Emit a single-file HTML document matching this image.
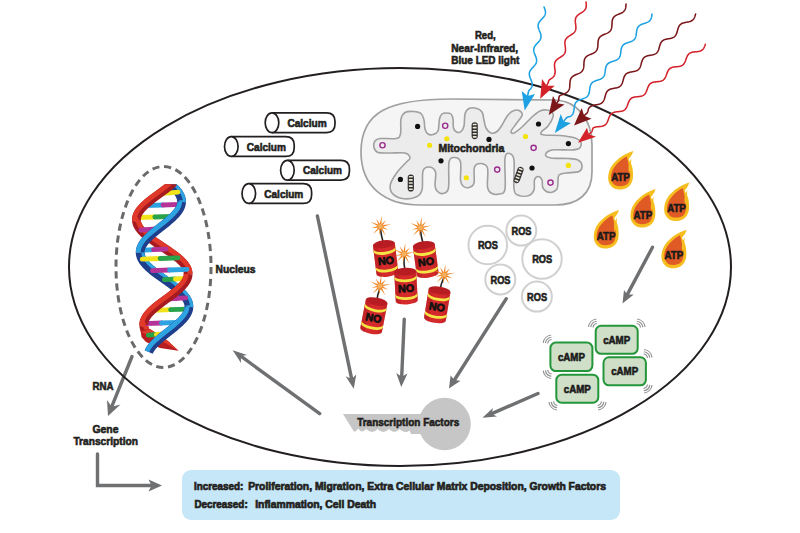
<!DOCTYPE html>
<html><head><meta charset="utf-8"><title>Photobiomodulation</title>
<style>html,body{margin:0;padding:0;background:#fff;width:800px;height:533px;overflow:hidden}svg{display:block}</style>
</head><body>
<svg width="800" height="533" viewBox="0 0 800 533">
<g font-family='"Liberation Sans", sans-serif'>
<rect width="800" height="533" fill="#ffffff"/>
<rect x="182" y="470" width="438" height="50" rx="9" fill="#c6e7f8"/>
<text x="194.0" y="489.9" font-size="10.8" font-weight="bold" text-anchor="start" fill="#231f20" stroke="#231f20" stroke-width="0.7" textLength="49.4" lengthAdjust="spacingAndGlyphs" >Increased:</text>
<text x="248.2" y="489.9" font-size="10.8" font-weight="bold" text-anchor="start" fill="#231f20" stroke="#231f20" stroke-width="0.7" textLength="357.8" lengthAdjust="spacingAndGlyphs" >Proliferation, Migration, Extra Cellular Matrix Deposition, Growth Factors</text>
<text x="194.4" y="507.9" font-size="10.8" font-weight="bold" text-anchor="start" fill="#231f20" stroke="#231f20" stroke-width="0.7" textLength="53.3" lengthAdjust="spacingAndGlyphs" >Decreased:</text>
<text x="255.2" y="507.9" font-size="10.8" font-weight="bold" text-anchor="start" fill="#231f20" stroke="#231f20" stroke-width="0.7" textLength="120.8" lengthAdjust="spacingAndGlyphs" >Inflammation, Cell Death</text>
<text x="485.3" y="38.6" font-size="10.6" font-weight="bold" text-anchor="middle" fill="#231f20" stroke="#231f20" stroke-width="0.6" textLength="20.8" lengthAdjust="spacingAndGlyphs" >Red,</text>
<text x="484.7" y="52.0" font-size="10.6" font-weight="bold" text-anchor="middle" fill="#231f20" stroke="#231f20" stroke-width="0.6" textLength="67.0" lengthAdjust="spacingAndGlyphs" >Near-Infrared,</text>
<text x="485.3" y="64.4" font-size="10.6" font-weight="bold" text-anchor="middle" fill="#231f20" stroke="#231f20" stroke-width="0.6" textLength="68.0" lengthAdjust="spacingAndGlyphs" >Blue LED light</text>
<path d="M361,152 C361,112 388,99 452,99 L555,100 C578,101 592,120 592,145 L592,172 C592,194 578,205 555,205 L420,205 C385,205 361,187 361,152 Z" fill="#f5f5f5" stroke="#a0a0a0" stroke-width="1.7"/>
<path d="M375,141 C376.0,139.5 376.5,138.9 380,138.5 C383.5,138.1 392.6,139.2 396,138.5 C399.4,137.8 399.7,137.2 400.5,134 C401.3,130.8 400.2,122.6 401,119 C401.8,115.4 402.8,113.8 405,112.5 C407.2,111.2 411.3,111.3 414,111.5 C416.7,111.7 419.3,112.1 421,113.5 C422.7,114.9 423.3,117.4 424,120 C424.7,122.6 424.3,126.7 425,129 C425.7,131.3 426.7,133.1 428,134 C429.3,134.9 431.3,135.0 433,134.5 C434.7,134.0 436.9,133.6 438,131 C439.1,128.4 438.8,121.8 439.5,119 C440.2,116.2 440.9,115.0 442,114 C443.1,113.0 444.5,113.0 446,113 C447.5,113.0 449.8,113.0 451,114 C452.2,115.0 452.6,116.7 453,119 C453.4,121.3 452.9,125.8 453.5,128 C454.1,130.2 455.2,131.4 456.5,132 C457.8,132.6 459.8,132.5 461,131.5 C462.2,130.5 463.3,128.9 464,126 C464.7,123.1 464.2,116.9 465,114 C465.8,111.1 467.0,109.4 469,108.5 C471.0,107.6 474.8,107.9 477,108.5 C479.2,109.1 480.8,110.1 482,112 C483.2,113.9 483.3,117.3 484,120 C484.7,122.7 484.8,125.8 486,128 C487.2,130.2 489.2,132.4 491,133 C492.8,133.6 495.2,132.8 497,131.5 C498.8,130.2 500.2,127.8 502,125 C503.8,122.2 506.0,117.4 508,115 C510.0,112.6 512.0,111.2 514,110.5 C516.0,109.8 518.7,110.2 520,111 C521.3,111.8 522.7,113.3 522,115.5 C521.3,117.7 517.8,121.3 516,124 C514.2,126.7 511.3,130.0 511,131.5 C510.7,133.0 512.2,133.8 514,133 C515.8,132.2 519.0,129.7 522,127 C525.0,124.3 529.0,119.7 532,117 C535.0,114.3 537.5,112.2 540,111 C542.5,109.8 545.0,109.8 547,110 C549.0,110.2 551.0,110.8 552,112 C553.0,113.2 553.7,114.7 553,117 C552.3,119.3 550.0,123.4 548,126 C546.0,128.6 541.7,131.0 541,132.5 C540.3,134.0 540.8,134.5 544,135 C547.2,135.5 554.8,135.0 560,135.5 C565.2,136.0 571.5,136.8 575,138 C578.5,139.2 580.3,140.8 581,142.5 C581.7,144.2 580.8,147.2 579,148.5 C577.2,149.8 574.5,149.8 570,150 C565.5,150.2 556.1,149.2 552,150 C547.9,150.8 545.7,153.2 545.5,154.5 C545.3,155.8 547.2,157.3 551,158 C554.8,158.7 563.5,158.2 568,158.5 C572.5,158.8 575.7,158.8 578,160 C580.3,161.2 581.8,163.6 582,165.5 C582.2,167.4 581.7,170.2 579,171.5 C576.3,172.8 569.3,172.4 566,173 C562.7,173.6 560.3,173.7 559,175 C557.7,176.3 558.3,178.7 558,181 C557.7,183.3 558.3,187.1 557,189 C555.7,190.9 552.3,192.7 550,192.5 C547.7,192.3 544.3,190.1 543,188 C541.7,185.9 542.8,181.9 542,180 C541.2,178.1 539.2,176.5 538,176.5 C536.8,176.5 535.2,177.8 534.5,180 C533.8,182.2 534.9,187.4 534,190 C533.1,192.6 531.5,194.6 529,195.5 C526.5,196.4 521.5,196.6 519,195.5 C516.5,194.4 514.8,194.9 514,189 C513.2,183.1 514.8,165.9 514,160 C513.2,154.1 511.0,153.8 509.5,153.5 C508.0,153.2 505.8,152.1 505,158 C504.2,163.9 506.0,183.0 505,189 C504.0,195.0 501.3,193.3 499,194 C496.7,194.7 492.9,194.2 491,193 C489.1,191.8 488.1,191.2 487.5,187 C486.9,182.8 488.6,171.9 487.5,168 C486.4,164.1 483.2,163.7 481,163.5 C478.8,163.3 475.7,163.8 474.5,167 C473.3,170.2 474.9,179.6 474,183 C473.1,186.4 470.8,187.0 469,187.5 C467.2,188.0 464.4,187.2 463,186 C461.6,184.8 460.9,184.0 460.5,180 C460.1,176.0 461.5,165.8 460.5,162 C459.5,158.2 456.4,157.5 454.5,157.5 C452.6,157.5 450.0,156.9 449,162 C448.0,167.1 449.5,182.8 448.5,188 C447.5,193.2 444.9,193.0 443,193.5 C441.1,194.0 438.3,192.4 437,191 C435.7,189.6 435.2,188.2 435,185 C434.8,181.8 436.4,175.0 435.5,172 C434.6,169.0 431.6,167.2 429.5,167 C427.4,166.8 424.2,167.2 423,171 C421.8,174.8 423.2,185.7 422,190 C420.8,194.3 419.3,195.6 416,197 C412.7,198.4 406.0,199.2 402,198.5 C398.0,197.8 393.9,195.4 392,193 C390.1,190.6 389.7,187.4 390.5,184 C391.3,180.6 394.4,176.1 397,172.5 C399.6,168.9 403.8,164.9 406,162.5 C408.2,160.1 410.2,159.6 410,158 C409.8,156.4 408.3,153.8 405,153 C401.7,152.2 394.5,153.1 390,153 C385.5,152.9 380.7,153.4 378,152.5 C375.3,151.6 374.5,149.4 374,147.5 C373.5,145.6 374.0,142.5 375,141 Z" fill="#ececec" stroke="#a0a0a0" stroke-width="1.6"/>
<circle cx="417.6" cy="126.4" r="2.6" fill="#111"/>
<circle cx="489" cy="139.4" r="2.6" fill="#111"/>
<circle cx="538.5" cy="124" r="2.6" fill="#111"/>
<circle cx="568.4" cy="143.6" r="2.6" fill="#111"/>
<circle cx="532" cy="168" r="2.6" fill="#111"/>
<circle cx="441" cy="160.8" r="2.6" fill="#111"/>
<circle cx="400.4" cy="179.4" r="2.6" fill="#111"/>
<circle cx="446.8" cy="138.75" r="2.6" fill="#f4e20c"/>
<circle cx="429.6" cy="145.25" r="2.6" fill="#f4e20c"/>
<circle cx="525.5" cy="136.5" r="2.6" fill="#f4e20c"/>
<circle cx="568.4" cy="165.4" r="2.6" fill="#f4e20c"/>
<circle cx="466.3" cy="177.75" r="2.6" fill="#f4e20c"/>
<circle cx="445.2" cy="125.75" r="2.6" fill="none" stroke="#9b2a8e" stroke-width="1.4"/>
<circle cx="382.5" cy="145.25" r="2.6" fill="none" stroke="#9b2a8e" stroke-width="1.4"/>
<circle cx="533.6" cy="147.85" r="2.6" fill="none" stroke="#9b2a8e" stroke-width="1.4"/>
<circle cx="497.2" cy="169.6" r="2.6" fill="none" stroke="#9b2a8e" stroke-width="1.4"/>
<circle cx="550.5" cy="182.6" r="2.6" fill="none" stroke="#9b2a8e" stroke-width="1.4"/>
<g transform="translate(474.7,130.7) rotate(0)">
<rect x="-3.1" y="-8.5" width="6.2" height="17" rx="3.1" fill="#2e2e2e"/>
<rect x="-2" y="-7.0" width="4" height="1.6" rx="0.6" fill="#ece6d4"/>
<rect x="-2" y="-3.9000000000000004" width="4" height="1.6" rx="0.6" fill="#ece6d4"/>
<rect x="-2" y="-0.8" width="4" height="1.6" rx="0.6" fill="#ece6d4"/>
<rect x="-2" y="2.3" width="4" height="1.6" rx="0.6" fill="#ece6d4"/>
<rect x="-2" y="5.4" width="4" height="1.6" rx="0.6" fill="#ece6d4"/>
</g>
<g transform="translate(410.8,183) rotate(0)">
<rect x="-3.1" y="-8.5" width="6.2" height="17" rx="3.1" fill="#2e2e2e"/>
<rect x="-2" y="-7.0" width="4" height="1.6" rx="0.6" fill="#ece6d4"/>
<rect x="-2" y="-3.9000000000000004" width="4" height="1.6" rx="0.6" fill="#ece6d4"/>
<rect x="-2" y="-0.8" width="4" height="1.6" rx="0.6" fill="#ece6d4"/>
<rect x="-2" y="2.3" width="4" height="1.6" rx="0.6" fill="#ece6d4"/>
<rect x="-2" y="5.4" width="4" height="1.6" rx="0.6" fill="#ece6d4"/>
</g>
<g transform="translate(518.6,174.9) rotate(20)">
<rect x="-3.1" y="-8.5" width="6.2" height="17" rx="3.1" fill="#2e2e2e"/>
<rect x="-2" y="-7.0" width="4" height="1.6" rx="0.6" fill="#ece6d4"/>
<rect x="-2" y="-3.9000000000000004" width="4" height="1.6" rx="0.6" fill="#ece6d4"/>
<rect x="-2" y="-0.8" width="4" height="1.6" rx="0.6" fill="#ece6d4"/>
<rect x="-2" y="2.3" width="4" height="1.6" rx="0.6" fill="#ece6d4"/>
<rect x="-2" y="5.4" width="4" height="1.6" rx="0.6" fill="#ece6d4"/>
</g>
<text x="438.4" y="151.7" font-size="10.8" font-weight="bold" text-anchor="start" fill="#231f20" stroke="#231f20" stroke-width="0.6" textLength="66.0" lengthAdjust="spacingAndGlyphs" >Mitochondria</text>
<path d="M272,112.8 L326.5,112.8 Q335,112.8 335,121.3 L335,124.1 Q335,132.6 326.5,132.6 L272,132.6" fill="#fff" stroke="#231f20" stroke-width="1.7"/>
<ellipse cx="272" cy="122.7" rx="6.8" ry="9.9" fill="#fff" stroke="#231f20" stroke-width="1.7"/>
<text x="287.4" y="126.8" font-size="10.8" font-weight="bold" text-anchor="start" fill="#231f20" stroke="#231f20" stroke-width="0.6" textLength="39.3" lengthAdjust="spacingAndGlyphs" >Calcium</text>
<path d="M231.3,136.6 L285.7,136.6 Q294.2,136.6 294.2,145.1 L294.2,147.9 Q294.2,156.4 285.7,156.4 L231.3,156.4" fill="#fff" stroke="#231f20" stroke-width="1.7"/>
<ellipse cx="231.3" cy="146.5" rx="6.8" ry="9.9" fill="#fff" stroke="#231f20" stroke-width="1.7"/>
<text x="246.8" y="150.8" font-size="10.8" font-weight="bold" text-anchor="start" fill="#231f20" stroke="#231f20" stroke-width="0.6" textLength="39.2" lengthAdjust="spacingAndGlyphs" >Calcium</text>
<path d="M287.4,160.29999999999998 L340.9,160.29999999999998 Q349.4,160.29999999999998 349.4,168.79999999999998 L349.4,171.6 Q349.4,180.1 340.9,180.1 L287.4,180.1" fill="#fff" stroke="#231f20" stroke-width="1.7"/>
<ellipse cx="287.4" cy="170.2" rx="6.8" ry="9.9" fill="#fff" stroke="#231f20" stroke-width="1.7"/>
<text x="303.0" y="174.3" font-size="10.8" font-weight="bold" text-anchor="start" fill="#231f20" stroke="#231f20" stroke-width="0.6" textLength="39.0" lengthAdjust="spacingAndGlyphs" >Calcium</text>
<path d="M248.8,183.6 L303.1,183.6 Q311.6,183.6 311.6,192.1 L311.6,194.9 Q311.6,203.4 303.1,203.4 L248.8,203.4" fill="#fff" stroke="#231f20" stroke-width="1.7"/>
<ellipse cx="248.8" cy="193.5" rx="6.8" ry="9.9" fill="#fff" stroke="#231f20" stroke-width="1.7"/>
<text x="264.3" y="197.9" font-size="10.8" font-weight="bold" text-anchor="start" fill="#231f20" stroke="#231f20" stroke-width="0.6" textLength="39.0" lengthAdjust="spacingAndGlyphs" >Calcium</text>
<ellipse cx="163.5" cy="267" rx="47.5" ry="100.5" fill="none" stroke="#6a6a6a" stroke-width="3" stroke-dasharray="7.2 4.8"/>
<text x="215.6" y="272.6" font-size="10.6" font-weight="bold" text-anchor="start" fill="#231f20" stroke="#231f20" stroke-width="0.6" textLength="40.0" lengthAdjust="spacingAndGlyphs" >Nucleus</text>
<defs><clipPath id="dnaclip"><rect x="100" y="184.3" width="120" height="180"/></clipPath></defs><g clip-path="url(#dnaclip)">
<polyline points="136.39,220.00 136.42,220.50 136.46,221.00 136.52,221.50 136.61,222.00 136.72,222.50 136.85,223.00 137.00,223.50 137.17,224.00 137.36,224.50 137.58,225.00 137.81,225.50 138.07,226.00 138.34,226.50 138.64,227.00 138.95,227.50 139.29,228.00 139.64,228.50 140.01,229.00 140.41,229.50 140.82,230.00 141.24,230.50 141.69,231.00 142.16,231.50 142.64,232.00 143.13,232.50 143.65,233.00 144.18,233.50 144.72,234.00 145.28,234.50 145.86,235.00 146.45,235.50 147.05,236.00 147.66,236.50 148.29,237.00 148.93,237.50 149.58,238.00 150.24,238.50 150.91,239.00 151.59,239.50 152.28,240.00 152.98,240.50 153.69,241.00 154.40,241.50 155.12,242.00 155.85,242.50 156.58,243.00 157.32,243.50 158.06,244.00 158.80,244.50 159.55,245.00 160.30,245.50 161.05,246.00 161.80,246.50 162.56,247.00 163.31,247.50 164.06,248.00 164.81,248.50 165.56,249.00 166.31,249.50 167.05,250.00 167.79,250.50 168.52,251.00 169.25,251.50 169.97,252.00 170.68,252.50 171.39,253.00 172.09,253.50 172.78,254.00 173.47,254.50 174.14,255.00 174.80,255.50 175.46,256.00 176.10,256.50 176.73,257.00 177.34,257.50 177.95,258.00 178.54,258.50 179.12,259.00 179.68,259.50 180.23,260.00 180.76,260.50 181.28,261.00 181.78,261.50 182.26,262.00 182.73,262.50 183.18,263.00 183.61,263.50 184.03,264.00 184.42,264.50 184.80,265.00 185.16,265.50 185.50,266.00 185.81,266.50 186.11,267.00 186.39,267.50 186.65,268.00 186.89,268.50 187.11,269.00 187.31,269.50 187.48,270.00 187.64,270.50 187.77,271.00 187.88,271.50 187.97,272.00 188.04,272.50 188.09,273.00 188.12,273.50 188.12,274.00" fill="none" stroke="#a51b1f" stroke-width="8.8" stroke-linejoin="round"/>
<polyline points="138.29,219.92 138.31,220.38 138.35,220.79 138.40,221.22 138.48,221.64 138.57,222.06 138.68,222.49 138.81,222.92 138.95,223.35 139.12,223.78 139.31,224.22 139.52,224.67 139.74,225.11 139.99,225.56 140.26,226.01 140.54,226.46 140.85,226.92 141.18,227.38 141.52,227.85 141.89,228.31 142.27,228.78 142.67,229.25 143.10,229.72 143.54,230.20 143.99,230.67 144.47,231.15 144.96,231.63 145.47,232.11 146.00,232.59 146.54,233.07 147.10,233.56 147.67,234.05 148.25,234.53 148.85,235.02 149.47,235.51 150.09,236.00 150.73,236.49 151.38,236.98 152.04,237.47 152.71,237.96 153.39,238.46 154.08,238.95 154.78,239.45 155.49,239.94 156.20,240.44 156.92,240.93 157.65,241.43 158.38,241.93 159.12,242.42 159.86,242.92 160.61,243.42 161.35,243.92 162.10,244.42 162.86,244.92 163.61,245.42 164.36,245.92 165.11,246.42 165.87,246.92 166.62,247.42 167.37,247.92 168.11,248.43 168.85,248.93 169.59,249.43 170.33,249.94 171.05,250.44 171.78,250.95 172.49,251.45 173.20,251.96 173.90,252.46 174.59,252.97 175.28,253.48 175.95,253.99 176.62,254.50 177.27,255.01 177.91,255.52 178.55,256.03 179.17,256.54 179.77,257.06 180.37,257.57 180.95,258.09 181.52,258.61 182.07,259.12 182.61,259.64 183.13,260.17 183.64,260.69 184.13,261.22 184.60,261.74 185.06,262.27 185.50,262.80 185.92,263.34 186.33,263.87 186.72,264.41 187.08,264.96 187.43,265.50 187.76,266.05 188.07,266.60 188.35,267.15 188.62,267.71 188.86,268.27 189.09,268.84 189.29,269.40 189.46,269.97 189.61,270.55 189.74,271.12 189.85,271.70 189.93,272.28 189.98,272.86 190.02,273.44 190.02,273.98" fill="none" stroke="#e0392a" stroke-width="4.8" stroke-linejoin="round"/>
<polyline points="143.74,325.00 143.77,325.50 143.81,326.00 143.87,326.50 143.96,327.00 144.07,327.50 144.20,328.00 144.35,328.50 144.52,329.00 144.71,329.50 144.93,330.00 145.16,330.50 145.42,331.00 145.69,331.50 145.99,332.00 146.30,332.50 146.64,333.00 146.99,333.50 147.36,334.00 147.76,334.50 148.17,335.00 148.59,335.50 149.04,336.00 149.51,336.50 149.99,337.00" fill="none" stroke="#a51b1f" stroke-width="8.8" stroke-linejoin="round"/>
<polyline points="145.64,324.92 145.66,325.38 145.70,325.79 145.75,326.22 145.83,326.64 145.92,327.06 146.03,327.49 146.16,327.92 146.30,328.35 146.47,328.78 146.66,329.22 146.87,329.67 147.09,330.11 147.34,330.56 147.61,331.01 147.89,331.46 148.20,331.92 148.53,332.38 148.87,332.85 149.24,333.31 149.62,333.78 150.02,334.25 150.45,334.72 150.89,335.20 151.36,335.68" fill="none" stroke="#e0392a" stroke-width="4.8" stroke-linejoin="round"/>
<polygon points="140.5,330 150,329 168,341 178.5,350.8 160,348 146,342 141.5,337" fill="#b71d21"/>
<polygon points="141,332 150,329 168,341 178.5,350.8 165,343" fill="#dd3a2a"/>
<polyline points="167.48,182.00 168.12,182.50 168.75,183.00 169.37,183.50 169.97,184.00 170.57,184.50 171.16,185.00 171.73,185.50 172.29,186.00 172.84,186.50 173.37,187.00 173.90,187.50 174.40,188.00 174.90,188.50 175.37,189.00 175.84,189.50 176.28,190.00 176.71,190.50 177.13,191.00 177.53,191.50 177.91,192.00 178.27,192.50 178.61,193.00 178.94,193.50 179.25,194.00 179.54,194.50 179.81,195.00 180.06,195.50 180.30,196.00 180.51,196.50 180.71,197.00 180.88,197.50 181.04,198.00 181.17,198.50 181.29,199.00 181.38,199.50 181.46,200.00 181.51,200.50 181.55,201.00 181.56,201.50 181.56,202.00" fill="none" stroke="#1f3f8c" stroke-width="8.8" stroke-linejoin="round"/>
<polyline points="169.15,179.88 169.79,180.38 170.44,180.89 171.07,181.41 171.70,181.92 172.31,182.44 172.92,182.96 173.51,183.47 174.10,183.99 174.67,184.52 175.23,185.04 175.78,185.56 176.31,186.09 176.83,186.62 177.34,187.15 177.83,187.68 178.31,188.22 178.78,188.76 179.22,189.30 179.66,189.84 180.07,190.39 180.47,190.94 180.85,191.49 181.22,192.05 181.57,192.61 181.89,193.18 182.20,193.75 182.49,194.32 182.76,194.90 183.01,195.48 183.24,196.06 183.44,196.65 183.63,197.25 183.79,197.84 183.93,198.44 184.04,199.05 184.13,199.65 184.20,200.26 184.24,200.87 184.26,201.47 178.86,201.97" fill="none" stroke="#2ea3e2" stroke-width="3.2" stroke-linejoin="round"/>
<polyline points="140.18,252.50 140.19,253.00 140.23,253.50 140.28,254.00 140.36,254.50 140.45,255.00 140.57,255.50 140.70,256.00 140.86,256.50 141.03,257.00 141.23,257.50 141.44,258.00 141.68,258.50 141.93,259.00 142.20,259.50 142.49,260.00 142.80,260.50 143.13,261.00 143.47,261.50 143.83,262.00 144.21,262.50 144.61,263.00 145.03,263.50 145.46,264.00 145.90,264.50 146.37,265.00 146.84,265.50 147.34,266.00 147.84,266.50 148.37,267.00 148.90,267.50 149.45,268.00 150.01,268.50 150.58,269.00 151.17,269.50 151.77,270.00 152.37,270.50 152.99,271.00 153.62,271.50 154.26,272.00 154.90,272.50 155.56,273.00 156.22,273.50 156.89,274.00 157.56,274.50 158.24,275.00 158.93,275.50 159.62,276.00 160.32,276.50 161.02,277.00 161.72,277.50 162.42,278.00 163.13,278.50 163.84,279.00 164.54,279.50 165.25,280.00 165.96,280.50 166.67,281.00 167.37,281.50 168.07,282.00 168.77,282.50 169.47,283.00 170.16,283.50 170.85,284.00 171.53,284.50 172.20,285.00 172.87,285.50 173.53,286.00 174.19,286.50 174.83,287.00 175.47,287.50 176.10,288.00 176.72,288.50 177.32,289.00 177.92,289.50 178.51,290.00 179.08,290.50 179.64,291.00 180.19,291.50 180.72,292.00 181.25,292.50 181.75,293.00 182.25,293.50 182.72,294.00 183.19,294.50 183.63,295.00 184.06,295.50 184.48,296.00 184.88,296.50 185.26,297.00 185.62,297.50 185.96,298.00 186.29,298.50 186.60,299.00 186.89,299.50 187.16,300.00 187.41,300.50 187.65,301.00 187.86,301.50 188.06,302.00 188.23,302.50 188.39,303.00 188.52,303.50 188.64,304.00 188.73,304.50 188.81,305.00 188.86,305.50 188.90,306.00 188.91,306.50 188.91,307.00" fill="none" stroke="#1f3f8c" stroke-width="8.8" stroke-linejoin="round"/>
<polyline points="142.88,252.42 142.89,252.87 142.92,253.26 142.96,253.65 143.02,254.05 143.10,254.44 143.19,254.84 143.30,255.25 143.42,255.65 143.57,256.06 143.73,256.48 143.91,256.90 144.10,257.32 144.32,257.75 144.55,258.18 144.81,258.61 145.08,259.05 145.37,259.49 145.68,259.94 146.00,260.39 146.35,260.84 146.71,261.30 147.09,261.76 147.49,262.22 147.90,262.68 148.33,263.15 148.78,263.62 149.25,264.09 149.73,264.56 150.22,265.04 150.73,265.52 151.26,265.99 151.80,266.47 152.35,266.96 152.91,267.44 153.49,267.92 154.08,268.41 154.68,268.89 155.30,269.38 155.92,269.87 156.55,270.36 157.19,270.85 157.84,271.34 158.50,271.83 159.17,272.33 159.84,272.82 160.52,273.31 161.20,273.81 161.89,274.31 162.59,274.80 163.28,275.30 163.98,275.80 164.69,276.30 165.39,276.79 166.10,277.29 166.81,277.79 167.52,278.30 168.23,278.80 168.94,279.30 169.64,279.80 170.35,280.31 171.05,280.81 171.75,281.31 172.44,281.82 173.13,282.33 173.81,282.83 174.49,283.34 175.17,283.85 175.83,284.36 176.49,284.87 177.14,285.38 177.79,285.89 178.42,286.41 179.05,286.92 179.66,287.44 180.27,287.96 180.86,288.47 181.45,288.99 182.02,289.52 182.58,290.04 183.13,290.56 183.66,291.09 184.18,291.62 184.69,292.15 185.18,292.68 185.66,293.22 186.13,293.76 186.57,294.30 187.01,294.84 187.42,295.39 187.82,295.94 188.20,296.49 188.57,297.05 188.92,297.61 189.24,298.18 189.55,298.75 189.84,299.32 190.11,299.90 190.36,300.48 190.59,301.06 190.79,301.65 190.98,302.25 191.14,302.84 191.28,303.44 191.39,304.05 191.48,304.65 191.55,305.26 191.59,305.87 191.61,306.47 186.21,306.97" fill="none" stroke="#2ea3e2" stroke-width="3.2" stroke-linejoin="round"/>
<line x1="161.1" y1="193.4" x2="169.6" y2="192.8" stroke="#f2e21a" stroke-width="4.8" stroke-linecap="round"/>
<line x1="169.6" y1="192.8" x2="178.0" y2="192.2" stroke="#f2e21a" stroke-width="4.8" stroke-linecap="round"/>
<line x1="145.5" y1="205.6" x2="163.0" y2="205.0" stroke="#2ea3e2" stroke-width="4.8" stroke-linecap="round"/>
<line x1="163.0" y1="205.0" x2="180.6" y2="204.4" stroke="#b43397" stroke-width="4.8" stroke-linecap="round"/>
<line x1="137.2" y1="217.6" x2="154.8" y2="217.0" stroke="#f2e21a" stroke-width="4.8" stroke-linecap="round"/>
<line x1="154.8" y1="217.0" x2="172.3" y2="216.4" stroke="#2aa44a" stroke-width="4.8" stroke-linecap="round"/>
<line x1="140.8" y1="230.0" x2="149.1" y2="229.4" stroke="#b43397" stroke-width="4.8" stroke-linecap="round"/>
<line x1="149.1" y1="229.4" x2="157.3" y2="228.8" stroke="#b43397" stroke-width="4.8" stroke-linecap="round"/>
<line x1="141.0" y1="250.3" x2="153.5" y2="249.7" stroke="#2ea3e2" stroke-width="4.8" stroke-linecap="round"/>
<line x1="153.5" y1="249.7" x2="166.1" y2="249.1" stroke="#b43397" stroke-width="4.8" stroke-linecap="round"/>
<line x1="142.2" y1="259.1" x2="160.1" y2="258.5" stroke="#f2e21a" stroke-width="4.8" stroke-linecap="round"/>
<line x1="160.1" y1="258.5" x2="178.0" y2="257.9" stroke="#2aa44a" stroke-width="4.8" stroke-linecap="round"/>
<line x1="152.3" y1="270.6" x2="169.6" y2="270.0" stroke="#b43397" stroke-width="4.8" stroke-linecap="round"/>
<line x1="169.6" y1="270.0" x2="187.0" y2="269.4" stroke="#2ea3e2" stroke-width="4.8" stroke-linecap="round"/>
<line x1="164.3" y1="279.6" x2="175.4" y2="279.0" stroke="#2aa44a" stroke-width="4.8" stroke-linecap="round"/>
<line x1="175.4" y1="279.0" x2="186.5" y2="278.4" stroke="#f2e21a" stroke-width="4.8" stroke-linecap="round"/>
<line x1="167.7" y1="299.0" x2="176.7" y2="298.4" stroke="#b43397" stroke-width="4.8" stroke-linecap="round"/>
<line x1="176.7" y1="298.4" x2="185.7" y2="297.8" stroke="#b43397" stroke-width="4.8" stroke-linecap="round"/>
<line x1="153.2" y1="310.3" x2="170.6" y2="309.7" stroke="#f2e21a" stroke-width="4.8" stroke-linecap="round"/>
<line x1="170.6" y1="309.7" x2="188.0" y2="309.1" stroke="#2aa44a" stroke-width="4.8" stroke-linecap="round"/>
<line x1="144.4" y1="323.6" x2="161.5" y2="323.0" stroke="#b43397" stroke-width="4.8" stroke-linecap="round"/>
<line x1="161.5" y1="323.0" x2="178.6" y2="322.4" stroke="#2ea3e2" stroke-width="4.8" stroke-linecap="round"/>
<line x1="148.3" y1="335.1" x2="156.4" y2="334.5" stroke="#2aa44a" stroke-width="4.8" stroke-linecap="round"/>
<line x1="156.4" y1="334.5" x2="164.5" y2="333.9" stroke="#f2e21a" stroke-width="4.8" stroke-linecap="round"/>
<polyline points="173.83,182.00 173.33,182.50 172.81,183.00 172.28,183.50 171.73,184.00 171.18,184.50 170.61,185.00 170.03,185.50 169.44,186.00 168.83,186.50 168.22,187.00 167.60,187.50 166.97,188.00 166.34,188.50 165.69,189.00 165.04,189.50 164.39,190.00 163.73,190.50 163.06,191.00 162.39,191.50 161.71,192.00 161.04,192.50 160.36,193.00 159.67,193.50 158.99,194.00 158.31,194.50 157.62,195.00 156.94,195.50 156.26,196.00 155.58,196.50 154.91,197.00 154.24,197.50 153.57,198.00 152.91,198.50 152.25,199.00 151.60,199.50 150.95,200.00 150.31,200.50 149.68,201.00 149.06,201.50 148.45,202.00 147.85,202.50 147.25,203.00 146.67,203.50 146.10,204.00 145.54,204.50 144.99,205.00 144.46,205.50 143.94,206.00 143.43,206.50 142.94,207.00 142.46,207.50 142.00,208.00 141.55,208.50 141.12,209.00 140.70,209.50 140.31,210.00 139.93,210.50 139.56,211.00 139.22,211.50 138.89,212.00 138.59,212.50 138.30,213.00 138.03,213.50 137.78,214.00 137.55,214.50 137.34,215.00 137.15,215.50 136.98,216.00 136.84,216.50 136.71,217.00 136.60,217.50 136.52,218.00 136.46,218.50 136.41,219.00 136.39,219.50 136.39,220.00" fill="none" stroke="#a51b1f" stroke-width="8.8" stroke-linejoin="round"/>
<polyline points="172.49,180.65 172.00,181.14 171.50,181.62 170.98,182.11 170.46,182.59 169.91,183.08 169.36,183.57 168.79,184.05 168.22,184.54 167.63,185.03 167.03,185.53 166.42,186.02 165.80,186.51 165.17,187.00 164.53,187.50 163.89,187.99 163.24,188.49 162.58,188.98 161.92,189.48 161.25,189.97 160.58,190.47 159.91,190.97 159.23,191.47 158.55,191.97 157.87,192.47 157.19,192.97 156.50,193.47 155.82,193.97 155.14,194.47 154.46,194.97 153.78,195.47 153.10,195.98 152.43,196.48 151.76,196.99 151.10,197.49 150.44,198.00 149.78,198.50 149.14,199.01 148.50,199.52 147.87,200.02 147.24,200.53 146.63,201.04 146.02,201.55 145.43,202.06 144.84,202.58 144.27,203.09 143.70,203.60 143.15,204.12 142.61,204.64 142.09,205.16 141.57,205.68 141.07,206.20 140.59,206.72 140.12,207.25 139.67,207.77 139.23,208.30 138.81,208.83 138.40,209.37 138.01,209.90 137.64,210.44 137.29,210.98 136.95,211.53 136.64,212.08 136.34,212.63 136.07,213.18 135.81,213.74 135.58,214.30 135.36,214.86 135.17,215.43 135.00,216.00 134.86,216.57 134.74,217.14 134.64,217.72 134.57,218.30 134.52,218.88 134.49,219.46 138.29,220.00" fill="none" stroke="#e0392a" stroke-width="4.8" stroke-linejoin="round"/>
<polyline points="188.12,274.00 188.10,274.50 188.07,275.00 188.01,275.50 187.93,276.00 187.83,276.50 187.70,277.00 187.56,277.50 187.39,278.00 187.21,278.50 187.00,279.00 186.78,279.50 186.53,280.00 186.27,280.50 185.99,281.00 185.68,281.50 185.36,282.00 185.02,282.50 184.66,283.00 184.28,283.50 183.89,284.00 183.48,284.50 183.05,285.00 182.61,285.50 182.15,286.00 181.67,286.50 181.18,287.00 180.68,287.50 180.16,288.00 179.63,288.50 179.08,289.00 178.53,289.50 177.96,290.00 177.38,290.50 176.79,291.00 176.18,291.50 175.57,292.00 174.95,292.50 174.32,293.00 173.69,293.50 173.04,294.00 172.39,294.50 171.74,295.00 171.08,295.50 170.41,296.00 169.74,296.50 169.06,297.00 168.39,297.50 167.71,298.00 167.02,298.50 166.34,299.00 165.66,299.50 164.97,300.00 164.29,300.50 163.61,301.00 162.93,301.50 162.26,302.00 161.59,302.50 160.92,303.00 160.26,303.50 159.60,304.00 158.95,304.50 158.30,305.00 157.66,305.50 157.03,306.00 156.41,306.50 155.80,307.00 155.20,307.50 154.60,308.00 154.02,308.50 153.45,309.00 152.89,309.50 152.34,310.00 151.81,310.50 151.29,311.00 150.78,311.50 150.29,312.00 149.81,312.50 149.35,313.00 148.90,313.50 148.47,314.00 148.05,314.50 147.66,315.00 147.28,315.50 146.91,316.00 146.57,316.50 146.24,317.00 145.94,317.50 145.65,318.00 145.38,318.50 145.13,319.00 144.90,319.50 144.69,320.00 144.50,320.50 144.33,321.00 144.19,321.50 144.06,322.00 143.95,322.50 143.87,323.00 143.81,323.50 143.76,324.00 143.74,324.50 143.74,325.00" fill="none" stroke="#a51b1f" stroke-width="8.8" stroke-linejoin="round"/>
<polyline points="186.22,273.94 186.21,274.40 186.18,274.82 186.13,275.24 186.06,275.66 185.97,276.08 185.87,276.51 185.74,276.94 185.60,277.37 185.44,277.81 185.26,278.25 185.06,278.69 184.84,279.14 184.60,279.59 184.35,280.04 184.07,280.49 183.78,280.95 183.46,281.41 183.13,281.87 182.78,282.34 182.41,282.81 182.02,283.28 181.62,283.75 181.20,284.23 180.76,284.70 180.31,285.18 179.84,285.66 179.35,286.14 178.85,286.62 178.33,287.11 177.81,287.59 177.26,288.08 176.71,288.57 176.14,289.05 175.57,289.54 174.98,290.03 174.38,290.53 173.77,291.02 173.15,291.51 172.52,292.00 171.88,292.50 171.24,292.99 170.59,293.49 169.93,293.98 169.27,294.48 168.60,294.97 167.93,295.47 167.26,295.97 166.58,296.47 165.90,296.97 165.22,297.47 164.54,297.97 163.85,298.47 163.17,298.97 162.49,299.47 161.81,299.97 161.13,300.47 160.45,300.98 159.78,301.48 159.11,301.99 158.45,302.49 157.79,303.00 157.13,303.50 156.49,304.01 155.85,304.52 155.22,305.02 154.59,305.53 153.98,306.04 153.37,306.55 152.78,307.06 152.19,307.58 151.62,308.09 151.05,308.60 150.50,309.12 149.96,309.64 149.44,310.16 148.92,310.68 148.42,311.20 147.94,311.72 147.47,312.25 147.02,312.77 146.58,313.30 146.16,313.83 145.75,314.37 145.36,314.90 144.99,315.44 144.64,315.98 144.30,316.53 143.99,317.08 143.69,317.63 143.42,318.18 143.16,318.74 142.93,319.30 142.71,319.86 142.52,320.43 142.35,321.00 142.21,321.57 142.09,322.14 141.99,322.72 141.92,323.30 141.87,323.88 141.84,324.46 145.64,325.00" fill="none" stroke="#e0392a" stroke-width="4.8" stroke-linejoin="round"/>
<polyline points="181.56,202.00 181.53,202.50 181.49,203.00 181.42,203.50 181.34,204.00 181.23,204.50 181.11,205.00 180.96,205.50 180.80,206.00 180.62,206.50 180.41,207.00 180.19,207.50 179.96,208.00 179.70,208.50 179.42,209.00 179.13,209.50 178.82,210.00 178.49,210.50 178.15,211.00 177.79,211.50 177.41,212.00 177.02,212.50 176.61,213.00 176.19,213.50 175.75,214.00 175.30,214.50 174.83,215.00 174.36,215.50 173.86,216.00 173.36,216.50 172.84,217.00 172.32,217.50 171.78,218.00 171.23,218.50 170.67,219.00 170.11,219.50 169.53,220.00 168.95,220.50 168.36,221.00 167.76,221.50 167.15,222.00 166.54,222.50 165.92,223.00 165.30,223.50 164.68,224.00 164.05,224.50 163.42,225.00 162.78,225.50 162.15,226.00 161.51,226.50 160.87,227.00 160.23,227.50 159.59,228.00 158.96,228.50 158.32,229.00 157.69,229.50 157.06,230.00 156.44,230.50 155.82,231.00 155.20,231.50 154.59,232.00 153.98,232.50 153.38,233.00 152.79,233.50 152.21,234.00 151.63,234.50 151.07,235.00 150.51,235.50 149.96,236.00 149.42,236.50 148.90,237.00 148.38,237.50 147.88,238.00 147.38,238.50 146.91,239.00 146.44,239.50 145.99,240.00 145.55,240.50 145.13,241.00 144.72,241.50 144.33,242.00 143.95,242.50 143.59,243.00 143.25,243.50 142.92,244.00 142.61,244.50 142.32,245.00 142.04,245.50 141.78,246.00 141.55,246.50 141.33,247.00 141.12,247.50 140.94,248.00 140.78,248.50 140.63,249.00 140.51,249.50 140.40,250.00 140.32,250.50 140.25,251.00 140.21,251.50 140.18,252.00 140.18,252.50" fill="none" stroke="#1f3f8c" stroke-width="8.8" stroke-linejoin="round"/>
<polyline points="179.66,201.90 179.64,202.37 179.60,202.79 179.54,203.22 179.47,203.65 179.38,204.07 179.27,204.51 179.15,204.94 179.00,205.38 178.84,205.82 178.66,206.26 178.47,206.71 178.25,207.16 178.02,207.61 177.77,208.06 177.50,208.52 177.22,208.98 176.92,209.44 176.60,209.91 176.26,210.37 175.91,210.84 175.54,211.31 175.15,211.79 174.75,212.26 174.33,212.74 173.90,213.22 173.45,213.70 172.99,214.18 172.52,214.66 172.03,215.14 171.53,215.63 171.02,216.12 170.49,216.60 169.96,217.09 169.41,217.58 168.86,218.07 168.29,218.56 167.72,219.05 167.13,219.55 166.54,220.04 165.95,220.53 165.34,221.03 164.73,221.52 164.11,222.02 163.49,222.51 162.87,223.01 162.24,223.51 161.61,224.01 160.97,224.51 160.34,225.00 159.70,225.50 159.06,226.00 158.42,226.51 157.78,227.01 157.15,227.51 156.51,228.01 155.88,228.51 155.25,229.02 154.62,229.52 154.00,230.03 153.38,230.53 152.77,231.04 152.16,231.55 151.56,232.05 150.97,232.56 150.38,233.07 149.80,233.58 149.23,234.09 148.67,234.60 148.12,235.12 147.58,235.63 147.05,236.14 146.53,236.66 146.02,237.18 145.52,237.70 145.04,238.22 144.57,238.74 144.11,239.26 143.67,239.79 143.24,240.31 142.82,240.84 142.42,241.37 142.04,241.91 141.67,242.44 141.32,242.98 140.98,243.52 140.66,244.06 140.36,244.61 140.08,245.16 139.82,245.71 139.57,246.26 139.35,246.82 139.15,247.38 138.96,247.94 138.80,248.51 138.66,249.07 138.54,249.65 138.44,250.22 138.37,250.79 138.31,251.37 138.28,251.94 138.28,252.48" fill="none" stroke="#2ea3e2" stroke-width="4.8" stroke-linejoin="round"/>
<polyline points="188.91,307.00 188.88,307.50 188.84,308.00 188.77,308.50 188.69,309.00 188.58,309.50 188.46,310.00 188.31,310.50 188.15,311.00 187.97,311.50 187.76,312.00 187.54,312.50 187.31,313.00 187.05,313.50 186.77,314.00 186.48,314.50 186.17,315.00 185.84,315.50 185.50,316.00 185.14,316.50 184.76,317.00 184.37,317.50 183.96,318.00 183.54,318.50 183.10,319.00 182.65,319.50 182.18,320.00 181.71,320.50 181.21,321.00 180.71,321.50 180.19,322.00 179.67,322.50 179.13,323.00 178.58,323.50 178.02,324.00 177.46,324.50 176.88,325.00 176.30,325.50 175.71,326.00 175.11,326.50 174.50,327.00 173.89,327.50 173.27,328.00 172.65,328.50 172.03,329.00 171.40,329.50 170.77,330.00 170.13,330.50 169.50,331.00 168.86,331.50 168.22,332.00 167.58,332.50 166.94,333.00 166.31,333.50 165.67,334.00 165.04,334.50 164.41,335.00 163.79,335.50 163.17,336.00 162.55,336.50 161.94,337.00 161.33,337.50 160.73,338.00 160.14,338.50 159.56,339.00 158.98,339.50 158.42,340.00 157.86,340.50 157.31,341.00 156.77,341.50 156.25,342.00 155.73,342.50 155.23,343.00 154.73,343.50 154.26,344.00 153.79,344.50 153.34,345.00 152.90,345.50 152.48,346.00 152.07,346.50 151.68,347.00 151.30,347.50 150.94,348.00 150.60,348.50 150.27,349.00 149.96,349.50 149.67,350.00 149.39,350.50 149.13,351.00 148.90,351.50 148.68,352.00" fill="none" stroke="#1f3f8c" stroke-width="8.8" stroke-linejoin="round"/>
<polyline points="187.01,306.90 186.99,307.37 186.95,307.79 186.89,308.22 186.82,308.65 186.73,309.07 186.62,309.51 186.50,309.94 186.35,310.38 186.19,310.82 186.01,311.26 185.82,311.71 185.60,312.16 185.37,312.61 185.12,313.06 184.85,313.52 184.57,313.98 184.27,314.44 183.95,314.91 183.61,315.37 183.26,315.84 182.89,316.31 182.50,316.79 182.10,317.26 181.68,317.74 181.25,318.22 180.80,318.70 180.34,319.18 179.87,319.66 179.38,320.14 178.88,320.63 178.37,321.12 177.84,321.60 177.31,322.09 176.76,322.58 176.21,323.07 175.64,323.56 175.07,324.05 174.48,324.55 173.89,325.04 173.30,325.53 172.69,326.03 172.08,326.52 171.46,327.02 170.84,327.51 170.22,328.01 169.59,328.51 168.96,329.01 168.32,329.51 167.69,330.00 167.05,330.50 166.41,331.00 165.77,331.51 165.13,332.01 164.50,332.51 163.86,333.01 163.23,333.51 162.60,334.02 161.97,334.52 161.35,335.03 160.73,335.53 160.12,336.04 159.51,336.55 158.91,337.05 158.32,337.56 157.73,338.07 157.15,338.58 156.58,339.09 156.02,339.60 155.47,340.12 154.93,340.63 154.40,341.14 153.88,341.66 153.37,342.18 152.87,342.70 152.39,343.22 151.92,343.74 151.46,344.26 151.02,344.79 150.59,345.31 150.17,345.84 149.77,346.37 149.39,346.91 149.02,347.44 148.67,347.98 148.33,348.52 148.01,349.06 147.71,349.61 147.43,350.16 147.17,350.71 146.94,351.23" fill="none" stroke="#2ea3e2" stroke-width="4.8" stroke-linejoin="round"/>
</g>
<path d="M383.81,244.62 Q381.11,236.01 380.40,228.40" stroke="#222" stroke-width="1.6" fill="none"/>
<g transform="translate(385.7,259) rotate(-7)">
<path d="M-11,-15 L-11,14 A11,3.8 0 0 0 11,14 L11,-15 Z" fill="#d42a2b"/>
<path d="M-11,-15 L-11,14 A11,3.8 0 0 0 -6,17.4 L-6,-11.6 Z" fill="#b51d23" opacity="0.55"/>
<path d="M11,-15 L11,14 A11,3.8 0 0 1 7,17.2 L7,-11.8 Z" fill="#b51d23" opacity="0.4"/>
<ellipse cx="0" cy="-15" rx="11" ry="3.8" fill="#b71c22"/>
<path d="M-11,-11 A11,3.8 0 0 0 11,-11 L11,-8.2 A11,3.8 0 0 1 -11,-8.2 Z" fill="#f4e545"/>
<path d="M-11,6.8 A11,3.8 0 0 0 11,6.8 L11,9.6 A11,3.8 0 0 1 -11,9.6 Z" fill="#f4e545"/>
<text x="0.0" y="5.4" font-size="10.6" font-weight="bold" text-anchor="middle" fill="#111" stroke="#111" stroke-width="0.7" textLength="16.0" lengthAdjust="spacingAndGlyphs" >NO</text>
</g>
<polygon points="381.72,215.48 381.54,223.95 386.39,219.95 382.76,225.09 391.19,224.28 383.08,226.72 388.38,230.10 382.38,228.24 385.75,236.01 380.92,229.05 379.35,235.14 379.26,228.85 372.92,234.46 378.04,227.71 371.77,228.10 377.72,226.08 370.42,221.77 378.42,224.56 376.12,218.71 379.88,223.75" fill="#ef8826"/>
<circle cx="380.4" cy="226.4" r="2.4" fill="#f5b060"/>
<path d="M423.72,245.64 Q421.06,237.17 420.40,229.70" stroke="#222" stroke-width="1.6" fill="none"/>
<g transform="translate(425.8,260) rotate(-7.7)">
<path d="M-11,-15 L-11,14 A11,3.8 0 0 0 11,14 L11,-15 Z" fill="#d42a2b"/>
<path d="M-11,-15 L-11,14 A11,3.8 0 0 0 -6,17.4 L-6,-11.6 Z" fill="#b51d23" opacity="0.55"/>
<path d="M11,-15 L11,14 A11,3.8 0 0 1 7,17.2 L7,-11.8 Z" fill="#b51d23" opacity="0.4"/>
<ellipse cx="0" cy="-15" rx="11" ry="3.8" fill="#b71c22"/>
<path d="M-11,-11 A11,3.8 0 0 0 11,-11 L11,-8.2 A11,3.8 0 0 1 -11,-8.2 Z" fill="#f4e545"/>
<path d="M-11,6.8 A11,3.8 0 0 0 11,6.8 L11,9.6 A11,3.8 0 0 1 -11,9.6 Z" fill="#f4e545"/>
<text x="0.0" y="5.4" font-size="10.6" font-weight="bold" text-anchor="middle" fill="#111" stroke="#111" stroke-width="0.7" textLength="16.0" lengthAdjust="spacingAndGlyphs" >NO</text>
</g>
<polygon points="421.72,216.78 421.54,225.25 426.39,221.25 422.76,226.39 431.19,225.58 423.08,228.02 428.38,231.40 422.38,229.54 425.75,237.31 420.92,230.35 419.35,236.44 419.26,230.15 412.92,235.76 418.04,229.01 411.77,229.40 417.72,227.38 410.42,223.07 418.42,225.86 416.12,220.01 419.88,225.05" fill="#ef8826"/>
<circle cx="420.4" cy="227.7" r="2.4" fill="#f5b060"/>
<path d="M405.19,272.12 Q403.59,263.56 404.00,256.00" stroke="#222" stroke-width="1.6" fill="none"/>
<g transform="translate(406,286.6) rotate(-3)">
<path d="M-11,-15 L-11,14 A11,3.8 0 0 0 11,14 L11,-15 Z" fill="#d42a2b"/>
<path d="M-11,-15 L-11,14 A11,3.8 0 0 0 -6,17.4 L-6,-11.6 Z" fill="#b51d23" opacity="0.55"/>
<path d="M11,-15 L11,14 A11,3.8 0 0 1 7,17.2 L7,-11.8 Z" fill="#b51d23" opacity="0.4"/>
<ellipse cx="0" cy="-15" rx="11" ry="3.8" fill="#b71c22"/>
<path d="M-11,-11 A11,3.8 0 0 0 11,-11 L11,-8.2 A11,3.8 0 0 1 -11,-8.2 Z" fill="#f4e545"/>
<path d="M-11,6.8 A11,3.8 0 0 0 11,6.8 L11,9.6 A11,3.8 0 0 1 -11,9.6 Z" fill="#f4e545"/>
<text x="0.0" y="5.4" font-size="10.6" font-weight="bold" text-anchor="middle" fill="#111" stroke="#111" stroke-width="0.7" textLength="16.0" lengthAdjust="spacingAndGlyphs" >NO</text>
</g>
<polygon points="405.32,243.08 405.14,251.55 409.99,247.55 406.36,252.69 414.79,251.88 406.68,254.32 411.98,257.70 405.98,255.84 409.35,263.61 404.52,256.65 402.95,262.74 402.86,256.45 396.52,262.06 401.64,255.31 395.37,255.70 401.32,253.68 394.02,249.37 402.02,252.16 399.72,246.31 403.48,251.35" fill="#ef8826"/>
<circle cx="404" cy="254" r="2.4" fill="#f5b060"/>
<path d="M376.76,301.98 Q377.38,294.49 380.00,288.00" stroke="#222" stroke-width="1.6" fill="none"/>
<g transform="translate(373.8,316.2) rotate(11)">
<path d="M-11,-15 L-11,14 A11,3.8 0 0 0 11,14 L11,-15 Z" fill="#d42a2b"/>
<path d="M-11,-15 L-11,14 A11,3.8 0 0 0 -6,17.4 L-6,-11.6 Z" fill="#b51d23" opacity="0.55"/>
<path d="M11,-15 L11,14 A11,3.8 0 0 1 7,17.2 L7,-11.8 Z" fill="#b51d23" opacity="0.4"/>
<ellipse cx="0" cy="-15" rx="11" ry="3.8" fill="#b71c22"/>
<path d="M-11,-11 A11,3.8 0 0 0 11,-11 L11,-8.2 A11,3.8 0 0 1 -11,-8.2 Z" fill="#f4e545"/>
<path d="M-11,6.8 A11,3.8 0 0 0 11,6.8 L11,9.6 A11,3.8 0 0 1 -11,9.6 Z" fill="#f4e545"/>
<text x="0.0" y="5.4" font-size="10.6" font-weight="bold" text-anchor="middle" fill="#111" stroke="#111" stroke-width="0.7" textLength="16.0" lengthAdjust="spacingAndGlyphs" >NO</text>
</g>
<polygon points="381.32,275.08 381.14,283.55 385.99,279.55 382.36,284.69 390.79,283.88 382.68,286.32 387.98,289.70 381.98,287.84 385.35,295.61 380.52,288.65 378.95,294.74 378.86,288.45 372.52,294.06 377.64,287.31 371.37,287.70 377.32,285.68 370.02,281.37 378.02,284.16 375.72,278.31 379.48,283.35" fill="#ef8826"/>
<circle cx="380" cy="286" r="2.4" fill="#f5b060"/>
<path d="M439.70,290.90 Q440.95,283.35 444.20,276.80" stroke="#222" stroke-width="1.6" fill="none"/>
<g transform="translate(437.2,305.2) rotate(9.3)">
<path d="M-11,-15 L-11,14 A11,3.8 0 0 0 11,14 L11,-15 Z" fill="#d42a2b"/>
<path d="M-11,-15 L-11,14 A11,3.8 0 0 0 -6,17.4 L-6,-11.6 Z" fill="#b51d23" opacity="0.55"/>
<path d="M11,-15 L11,14 A11,3.8 0 0 1 7,17.2 L7,-11.8 Z" fill="#b51d23" opacity="0.4"/>
<ellipse cx="0" cy="-15" rx="11" ry="3.8" fill="#b71c22"/>
<path d="M-11,-11 A11,3.8 0 0 0 11,-11 L11,-8.2 A11,3.8 0 0 1 -11,-8.2 Z" fill="#f4e545"/>
<path d="M-11,6.8 A11,3.8 0 0 0 11,6.8 L11,9.6 A11,3.8 0 0 1 -11,9.6 Z" fill="#f4e545"/>
<text x="0.0" y="5.4" font-size="10.6" font-weight="bold" text-anchor="middle" fill="#111" stroke="#111" stroke-width="0.7" textLength="16.0" lengthAdjust="spacingAndGlyphs" >NO</text>
</g>
<polygon points="445.52,263.88 445.34,272.35 450.19,268.35 446.56,273.49 454.99,272.68 446.88,275.12 452.18,278.50 446.18,276.64 449.55,284.41 444.72,277.45 443.15,283.54 443.06,277.25 436.72,282.86 441.84,276.11 435.57,276.50 441.52,274.48 434.22,270.17 442.22,272.96 439.92,267.11 443.68,272.15" fill="#ef8826"/>
<circle cx="444.2" cy="274.8" r="2.4" fill="#f5b060"/>
<circle cx="487.75" cy="245" r="19.3" fill="#fff" stroke="#d0d0d0" stroke-width="2"/>
<text x="487.9" y="249.1" font-size="10.5" font-weight="bold" text-anchor="middle" fill="#231f20" stroke="#231f20" stroke-width="0.6" textLength="20.0" lengthAdjust="spacingAndGlyphs" >ROS</text>
<circle cx="521.3" cy="230.6" r="15" fill="#fff" stroke="#d0d0d0" stroke-width="2"/>
<text x="521.5" y="234.7" font-size="10.5" font-weight="bold" text-anchor="middle" fill="#231f20" stroke="#231f20" stroke-width="0.6" textLength="20.0" lengthAdjust="spacingAndGlyphs" >ROS</text>
<circle cx="542" cy="259" r="19.7" fill="#fff" stroke="#d0d0d0" stroke-width="2"/>
<text x="542.2" y="263.1" font-size="10.5" font-weight="bold" text-anchor="middle" fill="#231f20" stroke="#231f20" stroke-width="0.6" textLength="20.0" lengthAdjust="spacingAndGlyphs" >ROS</text>
<circle cx="500.3" cy="279.4" r="15" fill="#fff" stroke="#d0d0d0" stroke-width="2"/>
<text x="500.5" y="283.5" font-size="10.5" font-weight="bold" text-anchor="middle" fill="#231f20" stroke="#231f20" stroke-width="0.6" textLength="20.0" lengthAdjust="spacingAndGlyphs" >ROS</text>
<circle cx="536.9" cy="296.6" r="15" fill="#fff" stroke="#d0d0d0" stroke-width="2"/>
<text x="537.1" y="300.7" font-size="10.5" font-weight="bold" text-anchor="middle" fill="#231f20" stroke="#231f20" stroke-width="0.6" textLength="20.0" lengthAdjust="spacingAndGlyphs" >ROS</text>
<g transform="translate(620.7,178)">
<path d="M12.6,-26.9 C5,-25 -4,-19 -9,-12 C-13,-6 -13.5,2 -11,6 C-8,11 -3,12 1,11.5 C7,11 12,6 12.3,-1 C12.5,-6 12,-11 10.5,-14 C9,-17 8,-18 8,-19 C10,-21 11.5,-23.5 12.6,-26.9 Z" fill="#f6bd1e"/>
<path d="M6,-21.5 C1,-19 -5,-14 -8,-8 C-11,-2 -10,4 -6,7 C-2,9 4,8.5 7,5.5 C10,2 10,-4 9,-8 C8,-12 7.5,-17 6,-21.5 Z" fill="#e05a26"/>
<path d="M8.6,-5 C7.2,-9 7.6,-14 10.6,-19.5 C10.2,-14 10.6,-9 8.6,-5 Z" fill="#f6bd1e"/>
</g>
<text x="620.5" y="180.7" font-size="10.4" font-weight="bold" text-anchor="middle" fill="#1a1a1a" stroke="#1a1a1a" stroke-width="0.6" textLength="18.6" lengthAdjust="spacingAndGlyphs" >ATP</text>
<g transform="translate(643,216)">
<path d="M12.6,-26.9 C5,-25 -4,-19 -9,-12 C-13,-6 -13.5,2 -11,6 C-8,11 -3,12 1,11.5 C7,11 12,6 12.3,-1 C12.5,-6 12,-11 10.5,-14 C9,-17 8,-18 8,-19 C10,-21 11.5,-23.5 12.6,-26.9 Z" fill="#f6bd1e"/>
<path d="M6,-21.5 C1,-19 -5,-14 -8,-8 C-11,-2 -10,4 -6,7 C-2,9 4,8.5 7,5.5 C10,2 10,-4 9,-8 C8,-12 7.5,-17 6,-21.5 Z" fill="#e05a26"/>
<path d="M8.6,-5 C7.2,-9 7.6,-14 10.6,-19.5 C10.2,-14 10.6,-9 8.6,-5 Z" fill="#f6bd1e"/>
</g>
<text x="642.8" y="218.7" font-size="10.4" font-weight="bold" text-anchor="middle" fill="#1a1a1a" stroke="#1a1a1a" stroke-width="0.6" textLength="18.6" lengthAdjust="spacingAndGlyphs" >ATP</text>
<g transform="translate(676.7,209.4)">
<path d="M12.6,-26.9 C5,-25 -4,-19 -9,-12 C-13,-6 -13.5,2 -11,6 C-8,11 -3,12 1,11.5 C7,11 12,6 12.3,-1 C12.5,-6 12,-11 10.5,-14 C9,-17 8,-18 8,-19 C10,-21 11.5,-23.5 12.6,-26.9 Z" fill="#f6bd1e"/>
<path d="M6,-21.5 C1,-19 -5,-14 -8,-8 C-11,-2 -10,4 -6,7 C-2,9 4,8.5 7,5.5 C10,2 10,-4 9,-8 C8,-12 7.5,-17 6,-21.5 Z" fill="#e05a26"/>
<path d="M8.6,-5 C7.2,-9 7.6,-14 10.6,-19.5 C10.2,-14 10.6,-9 8.6,-5 Z" fill="#f6bd1e"/>
</g>
<text x="676.5" y="212.1" font-size="10.4" font-weight="bold" text-anchor="middle" fill="#1a1a1a" stroke="#1a1a1a" stroke-width="0.6" textLength="18.6" lengthAdjust="spacingAndGlyphs" >ATP</text>
<g transform="translate(606.3,237)">
<path d="M12.6,-26.9 C5,-25 -4,-19 -9,-12 C-13,-6 -13.5,2 -11,6 C-8,11 -3,12 1,11.5 C7,11 12,6 12.3,-1 C12.5,-6 12,-11 10.5,-14 C9,-17 8,-18 8,-19 C10,-21 11.5,-23.5 12.6,-26.9 Z" fill="#f6bd1e"/>
<path d="M6,-21.5 C1,-19 -5,-14 -8,-8 C-11,-2 -10,4 -6,7 C-2,9 4,8.5 7,5.5 C10,2 10,-4 9,-8 C8,-12 7.5,-17 6,-21.5 Z" fill="#e05a26"/>
<path d="M8.6,-5 C7.2,-9 7.6,-14 10.6,-19.5 C10.2,-14 10.6,-9 8.6,-5 Z" fill="#f6bd1e"/>
</g>
<text x="606.1" y="239.7" font-size="10.4" font-weight="bold" text-anchor="middle" fill="#1a1a1a" stroke="#1a1a1a" stroke-width="0.6" textLength="18.6" lengthAdjust="spacingAndGlyphs" >ATP</text>
<g transform="translate(674,256.7)">
<path d="M12.6,-26.9 C5,-25 -4,-19 -9,-12 C-13,-6 -13.5,2 -11,6 C-8,11 -3,12 1,11.5 C7,11 12,6 12.3,-1 C12.5,-6 12,-11 10.5,-14 C9,-17 8,-18 8,-19 C10,-21 11.5,-23.5 12.6,-26.9 Z" fill="#f6bd1e"/>
<path d="M6,-21.5 C1,-19 -5,-14 -8,-8 C-11,-2 -10,4 -6,7 C-2,9 4,8.5 7,5.5 C10,2 10,-4 9,-8 C8,-12 7.5,-17 6,-21.5 Z" fill="#e05a26"/>
<path d="M8.6,-5 C7.2,-9 7.6,-14 10.6,-19.5 C10.2,-14 10.6,-9 8.6,-5 Z" fill="#f6bd1e"/>
</g>
<text x="673.8" y="259.4" font-size="10.4" font-weight="bold" text-anchor="middle" fill="#1a1a1a" stroke="#1a1a1a" stroke-width="0.6" textLength="18.6" lengthAdjust="spacingAndGlyphs" >ATP</text>
<rect x="550.4" y="342.6" width="42" height="28.5" rx="5.5" fill="#cfdfc8" stroke="#24963a" stroke-width="2"/>
<text x="571.4" y="360.7" font-size="10.5" font-weight="bold" text-anchor="middle" fill="#1a1a1a" stroke="#1a1a1a" stroke-width="0.6" textLength="27.0" lengthAdjust="spacingAndGlyphs" >cAMP</text>
<rect x="595.7" y="325.8" width="42" height="28" rx="5.5" fill="#cfdfc8" stroke="#24963a" stroke-width="2"/>
<text x="616.7" y="343.6" font-size="10.5" font-weight="bold" text-anchor="middle" fill="#1a1a1a" stroke="#1a1a1a" stroke-width="0.6" textLength="27.0" lengthAdjust="spacingAndGlyphs" >cAMP</text>
<rect x="603.5" y="357.3" width="42.4" height="28" rx="5.5" fill="#cfdfc8" stroke="#24963a" stroke-width="2"/>
<text x="624.7" y="375.1" font-size="10.5" font-weight="bold" text-anchor="middle" fill="#1a1a1a" stroke="#1a1a1a" stroke-width="0.6" textLength="27.0" lengthAdjust="spacingAndGlyphs" >cAMP</text>
<rect x="556.3" y="374.7" width="42" height="28" rx="5.5" fill="#cfdfc8" stroke="#24963a" stroke-width="2"/>
<text x="577.3" y="392.5" font-size="10.5" font-weight="bold" text-anchor="middle" fill="#1a1a1a" stroke="#1a1a1a" stroke-width="0.6" textLength="27.0" lengthAdjust="spacingAndGlyphs" >cAMP</text>
<path d="M547.73,343.45 A4.5,4.5 0 0 1 551.65,339.53" fill="none" stroke="#8f8f8f" stroke-width="1.15"/>
<path d="M545.45,343.17 A6.8,6.8 0 0 1 551.37,337.25" fill="none" stroke="#8f8f8f" stroke-width="1.15"/>
<path d="M543.17,342.89 A9.1,9.1 0 0 1 551.09,334.97" fill="none" stroke="#8f8f8f" stroke-width="1.15"/>
<path d="M551.65,373.97 A4.5,4.5 0 0 1 547.73,370.05" fill="none" stroke="#8f8f8f" stroke-width="1.15"/>
<path d="M551.37,376.25 A6.8,6.8 0 0 1 545.45,370.33" fill="none" stroke="#8f8f8f" stroke-width="1.15"/>
<path d="M551.09,378.53 A9.1,9.1 0 0 1 543.17,370.61" fill="none" stroke="#8f8f8f" stroke-width="1.15"/>
<path d="M593.03,327.45 A4.5,4.5 0 0 1 596.95,323.53" fill="none" stroke="#8f8f8f" stroke-width="1.15"/>
<path d="M590.75,327.17 A6.8,6.8 0 0 1 596.67,321.25" fill="none" stroke="#8f8f8f" stroke-width="1.15"/>
<path d="M588.47,326.89 A9.1,9.1 0 0 1 596.39,318.97" fill="none" stroke="#8f8f8f" stroke-width="1.15"/>
<path d="M636.55,323.53 A4.5,4.5 0 0 1 640.47,327.45" fill="none" stroke="#8f8f8f" stroke-width="1.15"/>
<path d="M636.83,321.25 A6.8,6.8 0 0 1 642.75,327.17" fill="none" stroke="#8f8f8f" stroke-width="1.15"/>
<path d="M637.11,318.97 A9.1,9.1 0 0 1 645.03,326.89" fill="none" stroke="#8f8f8f" stroke-width="1.15"/>
<path d="M643.55,354.03 A4.5,4.5 0 0 1 647.47,357.95" fill="none" stroke="#8f8f8f" stroke-width="1.15"/>
<path d="M643.83,351.75 A6.8,6.8 0 0 1 649.75,357.67" fill="none" stroke="#8f8f8f" stroke-width="1.15"/>
<path d="M644.11,349.47 A9.1,9.1 0 0 1 652.03,357.39" fill="none" stroke="#8f8f8f" stroke-width="1.15"/>
<path d="M647.47,384.55 A4.5,4.5 0 0 1 643.55,388.47" fill="none" stroke="#8f8f8f" stroke-width="1.15"/>
<path d="M649.75,384.83 A6.8,6.8 0 0 1 643.83,390.75" fill="none" stroke="#8f8f8f" stroke-width="1.15"/>
<path d="M652.03,385.11 A9.1,9.1 0 0 1 644.11,393.03" fill="none" stroke="#8f8f8f" stroke-width="1.15"/>
<path d="M557.45,405.47 A4.5,4.5 0 0 1 553.53,401.55" fill="none" stroke="#8f8f8f" stroke-width="1.15"/>
<path d="M557.17,407.75 A6.8,6.8 0 0 1 551.25,401.83" fill="none" stroke="#8f8f8f" stroke-width="1.15"/>
<path d="M556.89,410.03 A9.1,9.1 0 0 1 548.97,402.11" fill="none" stroke="#8f8f8f" stroke-width="1.15"/>
<path d="M601.47,401.55 A4.5,4.5 0 0 1 597.55,405.47" fill="none" stroke="#8f8f8f" stroke-width="1.15"/>
<path d="M603.75,401.83 A6.8,6.8 0 0 1 597.83,407.75" fill="none" stroke="#8f8f8f" stroke-width="1.15"/>
<path d="M606.03,402.11 A9.1,9.1 0 0 1 598.11,410.03" fill="none" stroke="#8f8f8f" stroke-width="1.15"/>
<g fill="#c6c6c6">
<circle cx="444.6" cy="424" r="26.2"/>
<path d="M343,414 L430,414 L430,434 L411,434 L409.5,430.5 Q405,434.5 399.5,429 Q394.5,435 389,429 Q383.5,435 377.5,429 Q372.5,435 366,429 Q362,434 358,428.5 Q356.5,431.5 354,431.8 Z"/>
</g>
<text x="357.2" y="425.9" font-size="10.8" font-weight="bold" text-anchor="start" fill="#231f20" stroke="#231f20" stroke-width="0.6" textLength="102.0" lengthAdjust="spacingAndGlyphs" >Transcription Factors</text>
<line x1="317.40" y1="216.00" x2="352.02" y2="380.53" stroke="#6f7072" stroke-width="3.4" stroke-linecap="round"/>
<polygon points="353.75,388.75 345.60,376.25 351.67,378.89 356.25,374.40" fill="#6f7072"/>
<line x1="404.25" y1="319.25" x2="401.62" y2="378.51" stroke="#6f7072" stroke-width="3.4" stroke-linecap="round"/>
<polygon points="401.25,386.90 396.25,373.10 401.70,376.83 407.50,373.50" fill="#6f7072"/>
<line x1="506.30" y1="298.70" x2="453.51" y2="381.52" stroke="#6f7072" stroke-width="3.4" stroke-linecap="round"/>
<polygon points="449.00,388.60 450.60,375.60 454.42,380.10 460.50,380.70" fill="#6f7072"/>
<line x1="652.50" y1="247.25" x2="626.45" y2="296.09" stroke="#6f7072" stroke-width="3.4" stroke-linecap="round"/>
<polygon points="622.50,303.50 624.00,290.00 627.24,294.61 633.75,294.50" fill="#6f7072"/>
<line x1="538.00" y1="393.50" x2="490.10" y2="414.35" stroke="#6f7072" stroke-width="3.4" stroke-linecap="round"/>
<polygon points="482.40,417.70 493.00,408.00 491.64,413.68 497.00,416.60" fill="#6f7072"/>
<line x1="319.70" y1="413.60" x2="239.49" y2="355.24" stroke="#6f7072" stroke-width="3.4" stroke-linecap="round"/>
<polygon points="232.70,350.30 241.00,363.00 240.85,356.23 247.00,355.00" fill="#6f7072"/>
<line x1="132.00" y1="356.50" x2="111.14" y2="408.21" stroke="#6f7072" stroke-width="3.4" stroke-linecap="round"/>
<polygon points="108.00,416.00 107.00,400.00 111.77,406.65 120.50,404.50" fill="#6f7072"/>
<path d="M97.5,454 L97.5,485.5 L152,485.5" fill="none" stroke="#6f7072" stroke-width="3.4" stroke-linecap="round"/>
<polygon points="162,485.5 148.5,479.5 151.5,485.5 148.5,491.5" fill="#6f7072"/>
<text x="92.4" y="389.5" font-size="10.6" font-weight="bold" text-anchor="start" fill="#231f20" stroke="#231f20" stroke-width="0.6" textLength="21.0" lengthAdjust="spacingAndGlyphs" >RNA</text>
<text x="105.5" y="433.1" font-size="10.6" font-weight="bold" text-anchor="middle" fill="#231f20" stroke="#231f20" stroke-width="0.6" textLength="26.0" lengthAdjust="spacingAndGlyphs" >Gene</text>
<text x="105.7" y="445.4" font-size="10.6" font-weight="bold" text-anchor="middle" fill="#231f20" stroke="#231f20" stroke-width="0.6" textLength="64.5" lengthAdjust="spacingAndGlyphs" >Transcription</text>
<ellipse cx="400" cy="267" rx="331" ry="199" fill="none" stroke="#231f20" stroke-width="2"/>
<polyline points="544.00,7.00 544.23,7.56 544.45,8.11 544.66,8.66 544.85,9.21 545.03,9.76 545.18,10.30 545.30,10.83 545.39,11.36 545.44,11.89 545.46,12.40 545.43,12.91 545.37,13.42 545.26,13.91 545.11,14.40 544.93,14.88 544.70,15.35 544.44,15.81 544.14,16.27 543.82,16.73 543.46,17.18 543.09,17.62 542.70,18.06 542.30,18.51 541.89,18.94 541.48,19.38 541.08,19.82 540.68,20.26 540.30,20.71 539.94,21.16 539.60,21.61 539.29,22.06 539.01,22.53 538.77,23.00 538.56,23.47 538.39,23.96 538.27,24.45 538.18,24.94 538.14,25.45 538.13,25.96 538.17,26.48 538.24,27.01 538.35,27.54 538.48,28.08 538.65,28.63 538.83,29.17 539.04,29.72 539.25,30.28 539.48,30.83 539.71,31.39 539.93,31.94 540.15,32.50 540.35,33.05 540.54,33.59 540.70,34.14 540.83,34.68 540.94,35.21 541.01,35.74 541.04,36.26 541.04,36.77 540.99,37.27 540.91,37.77 540.78,38.26 540.61,38.75 540.40,39.22 540.16,39.69 539.88,40.15 539.56,40.61 539.23,41.06 538.86,41.51 538.48,41.95 538.08,42.39 537.68,42.83 537.27,43.27 536.86,43.71 536.46,44.15 536.07,44.59 535.70,45.04 535.35,45.49 535.02,45.94 534.73,46.40 534.47,46.87 534.24,47.34 534.06,47.82 533.91,48.31 533.81,48.80 533.74,49.30 533.72,49.81 533.74,50.33 533.79,50.85 533.88,51.39 534.00,51.92 534.15,52.46 534.33,53.01 534.53,53.56 534.74,54.11 534.96,54.66 535.19,55.22 535.41,55.78 535.63,56.33 535.84,56.88 536.04,57.43 536.21,57.98 536.36,58.52 536.48,59.05 536.57,59.58 536.62,60.11 536.63,60.62 536.61,61.13 536.54,61.63 536.43,62.13 536.28,62.61 536.09,63.09 535.87,63.56 535.60,64.03 535.31,64.49 534.98,64.94 534.63,65.39 534.26,65.84 533.86,66.28 533.46,66.72 533.06,67.16 532.65,67.60 532.24,68.04 531.85,68.48 531.46,68.92 531.10,69.37 530.77,69.82 530.46,70.28 530.18,70.74 529.94,71.21 529.73,71.69 529.57,72.17 529.44,72.66 529.36,73.16 529.32,73.67 529.31,74.18 529.35,74.70 529.42,75.23 529.53,75.76 529.67,76.30 529.83,76.85 530.02,77.39 530.22,77.94 530.44,78.50 530.67,79.05 530.89,79.61 531.12,80.16 531.33,80.72 531.54,81.27 531.72,81.81 531.88,82.36 532.02,82.90 532.12,83.43 532.19,83.96 532.22,84.47 532.21,84.99 532.17,85.49 532.08,85.99 531.95,86.48 531.78,86.96 531.57,87.44 531.32,87.91 531.04,88.37 530.73,88.83 530.23,89.25 529.75,89.67 529.33,90.11 528.98,90.56 528.71,91.02 528.51,91.50 528.39,91.99 528.35,92.50 527.25,97.90" fill="none" stroke="#1da1e2" stroke-width="1.55" stroke-linecap="round" stroke-linejoin="round"/>
<polygon points="524.70,110.50 521.70,91.00 527.62,96.10 535.00,94.00" fill="#1da1e2"/>
<polyline points="586.00,2.00 586.08,2.59 586.15,3.18 586.21,3.77 586.26,4.35 586.29,4.92 586.30,5.48 586.28,6.03 586.23,6.56 586.15,7.08 586.04,7.59 585.89,8.07 585.70,8.54 585.47,8.99 585.20,9.42 584.90,9.84 584.57,10.24 584.20,10.62 583.80,10.99 583.37,11.35 582.92,11.69 582.44,12.03 581.96,12.35 581.46,12.68 580.95,13.00 580.45,13.32 579.94,13.64 579.45,13.96 578.97,14.29 578.50,14.63 578.06,14.98 577.64,15.34 577.25,15.72 576.90,16.11 576.58,16.51 576.29,16.94 576.04,17.38 575.83,17.83 575.65,18.31 575.52,18.80 575.41,19.31 575.35,19.84 575.31,20.38 575.30,20.93 575.32,21.49 575.36,22.07 575.41,22.65 575.48,23.24 575.56,23.83 575.64,24.43 575.71,25.02 575.78,25.61 575.84,26.19 575.88,26.77 575.90,27.34 575.90,27.89 575.87,28.43 575.81,28.96 575.72,29.47 575.59,29.97 575.42,30.45 575.21,30.91 574.97,31.35 574.69,31.78 574.38,32.19 574.02,32.58 573.64,32.96 573.23,33.32 572.79,33.67 572.33,34.01 571.85,34.34 571.36,34.67 570.86,34.99 570.35,35.31 569.85,35.63 569.35,35.95 568.86,36.28 568.38,36.62 567.93,36.96 567.49,37.31 567.09,37.68 566.71,38.06 566.37,38.46 566.06,38.87 565.79,39.30 565.55,39.74 565.36,40.21 565.20,40.69 565.07,41.19 564.99,41.71 564.93,42.24 564.91,42.78 564.91,43.34 564.94,43.91 564.98,44.49 565.05,45.07 565.12,45.66 565.19,46.26 565.27,46.85 565.35,47.44 565.41,48.03 565.46,48.61 565.50,49.18 565.51,49.75 565.50,50.30 565.46,50.83 565.38,51.36 565.27,51.86 565.13,52.35 564.94,52.82 564.72,53.28 564.47,53.71 564.17,54.13 563.84,54.53 563.48,54.92 563.08,55.29 562.66,55.65 562.21,56.00 561.74,56.33 561.26,56.66 560.76,56.99 560.26,57.31 559.75,57.63 559.25,57.95 558.75,58.27 558.27,58.60 557.80,58.94 557.35,59.29 556.93,59.65 556.54,60.02 556.17,60.40 555.84,60.81 555.55,61.23 555.29,61.66 555.07,62.12 554.89,62.59 554.75,63.08 554.64,63.58 554.57,64.11 554.52,64.64 554.51,65.19 554.52,65.76 554.56,66.33 554.61,66.91 554.68,67.50 554.75,68.09 554.83,68.68 554.91,69.28 554.98,69.87 555.04,70.45 555.09,71.03 555.11,71.60 555.11,72.16 555.09,72.70 555.03,73.23 554.95,73.75 554.82,74.25 554.66,74.73 554.46,75.19 554.23,75.64 553.96,76.07 553.65,76.48 553.30,76.88 552.93,77.26 552.52,77.62 552.09,77.98 551.63,78.32 551.15,78.65 550.66,78.98 550.13,79.28 549.65,79.62 549.25,79.99 548.93,80.39 548.68,80.83 548.50,81.31 548.39,81.81 548.35,82.35 545.90,87.28" fill="none" stroke="#d3222a" stroke-width="1.55" stroke-linecap="round" stroke-linejoin="round"/>
<polygon points="540.20,98.80 542.00,79.00 546.72,85.64 554.70,85.70" fill="#d3222a"/>
<polyline points="626.00,4.00 625.98,4.60 625.95,5.19 625.91,5.77 625.86,6.35 625.79,6.92 625.71,7.47 625.59,8.00 625.46,8.52 625.29,9.01 625.09,9.49 624.86,9.94 624.60,10.37 624.30,10.77 623.97,11.15 623.61,11.51 623.21,11.85 622.79,12.16 622.33,12.46 621.85,12.73 621.35,13.00 620.84,13.25 620.30,13.49 619.76,13.72 619.21,13.95 618.66,14.18 618.11,14.40 617.57,14.64 617.04,14.88 616.52,15.13 616.03,15.40 615.55,15.68 615.11,15.98 614.69,16.29 614.29,16.63 613.94,17.00 613.61,17.38 613.32,17.79 613.06,18.22 612.84,18.68 612.65,19.15 612.48,19.65 612.35,20.17 612.25,20.71 612.16,21.27 612.10,21.83 612.05,22.41 612.02,23.00 611.99,23.59 611.96,24.19 611.94,24.78 611.91,25.37 611.87,25.96 611.82,26.53 611.75,27.10 611.66,27.64 611.54,28.18 611.40,28.69 611.23,29.18 611.02,29.65 610.79,30.10 610.52,30.52 610.22,30.92 609.88,31.30 609.51,31.65 609.11,31.99 608.68,32.30 608.22,32.59 607.74,32.86 607.23,33.12 606.71,33.37 606.18,33.61 605.63,33.84 605.08,34.07 604.53,34.30 603.99,34.53 603.45,34.76 602.92,35.01 602.40,35.26 601.91,35.53 601.44,35.81 601.00,36.11 600.58,36.44 600.20,36.78 599.85,37.14 599.53,37.53 599.24,37.95 598.99,38.38 598.77,38.84 598.58,39.32 598.43,39.83 598.30,40.35 598.20,40.89 598.12,41.45 598.06,42.02 598.01,42.60 597.98,43.18 597.95,43.78 597.93,44.37 597.90,44.97 597.87,45.56 597.83,46.14 597.77,46.72 597.70,47.28 597.61,47.82 597.49,48.35 597.34,48.86 597.16,49.35 596.95,49.81 596.71,50.26 596.44,50.68 596.13,51.07 595.78,51.45 595.41,51.80 595.00,52.12 594.57,52.43 594.10,52.72 593.62,52.99 593.11,53.25 592.59,53.50 592.05,53.74 591.51,53.97 590.96,54.19 590.40,54.42 589.86,54.65 589.32,54.89 588.79,55.13 588.29,55.39 587.80,55.66 587.33,55.95 586.89,56.25 586.48,56.58 586.10,56.92 585.75,57.29 585.44,57.69 585.16,58.10 584.92,58.54 584.70,59.01 584.52,59.49 584.37,60.00 584.25,60.53 584.15,61.07 584.07,61.63 584.02,62.20 583.97,62.78 583.94,63.37 583.91,63.97 583.89,64.56 583.86,65.15 583.83,65.74 583.79,66.33 583.73,66.90 583.65,67.46 583.55,68.00 583.43,68.52 583.28,69.03 583.09,69.51 582.88,69.98 582.63,70.42 582.35,70.83 582.04,71.22 581.69,71.59 581.31,71.94 580.90,72.26 580.46,72.57 579.99,72.85 579.50,73.12 578.99,73.38 578.46,73.62 577.92,73.86 577.38,74.09 576.83,74.32 576.28,74.54 575.73,74.78 575.20,75.01 574.67,75.26 574.17,75.52 573.68,75.79 573.22,76.08 572.79,76.39 572.38,76.72 572.01,77.07 571.67,77.44 571.36,77.84 571.08,78.26 570.84,78.71 570.64,79.17 570.46,79.66 570.32,80.17 570.20,80.70 570.10,81.25 570.03,81.81 569.98,82.38 569.93,82.97 569.90,83.56 569.88,84.15 569.85,84.75 569.83,85.34 569.79,85.93 569.75,86.51 569.69,87.08 569.61,87.63 569.50,88.17 569.37,88.70 569.22,89.20 569.03,89.68 568.81,90.14 568.55,90.57 568.27,90.98 567.95,91.37 567.59,91.74 567.21,92.08 566.79,92.40 566.34,92.70 565.87,92.98 565.38,93.25 564.87,93.51 564.34,93.75 563.80,93.98 563.25,94.21 562.70,94.44 562.15,94.67 561.61,94.90 561.07,95.14 560.55,95.39 560.05,95.65 559.57,95.92 559.31,96.36 559.12,96.84 558.99,97.36 558.90,97.91 558.85,98.48 558.81,99.07 558.78,99.66 558.75,100.25 555.75,104.67" fill="none" stroke="#7b1619" stroke-width="1.55" stroke-linecap="round" stroke-linejoin="round"/>
<polygon points="548.75,115.00 553.00,96.00 556.75,103.20 564.50,104.50" fill="#7b1619"/>
<polyline points="652.00,14.00 651.93,14.59 651.85,15.18 651.77,15.76 651.67,16.33 651.56,16.89 651.43,17.43 651.28,17.95 651.10,18.46 650.90,18.94 650.66,19.40 650.40,19.83 650.10,20.23 649.77,20.61 649.41,20.97 649.02,21.29 648.60,21.60 648.15,21.88 647.68,22.14 647.18,22.38 646.66,22.60 646.13,22.81 645.58,23.00 645.02,23.19 644.45,23.38 643.89,23.56 643.32,23.74 642.76,23.93 642.22,24.13 641.68,24.34 641.17,24.57 640.67,24.81 640.20,25.07 639.75,25.35 639.34,25.66 638.95,25.99 638.60,26.35 638.27,26.73 637.98,27.14 637.72,27.58 637.49,28.04 637.29,28.52 637.12,29.03 636.97,29.56 636.84,30.10 636.73,30.66 636.64,31.23 636.56,31.82 636.48,32.40 636.41,32.99 636.34,33.59 636.26,34.17 636.18,34.75 636.08,35.32 635.97,35.88 635.83,36.42 635.68,36.94 635.49,37.44 635.29,37.92 635.05,38.37 634.78,38.80 634.48,39.20 634.14,39.57 633.78,39.92 633.39,40.25 632.96,40.55 632.51,40.83 632.03,41.08 631.53,41.32 631.01,41.54 630.47,41.74 629.92,41.94 629.36,42.13 628.79,42.31 628.22,42.49 627.66,42.68 627.10,42.87 626.56,43.07 626.03,43.28 625.51,43.51 625.02,43.75 624.55,44.02 624.11,44.31 623.70,44.62 623.32,44.95 622.97,45.31 622.65,45.70 622.36,46.11 622.11,46.55 621.88,47.02 621.69,47.50 621.52,48.01 621.37,48.54 621.24,49.09 621.14,49.65 621.05,50.23 620.97,50.81 620.89,51.40 620.82,51.99 620.75,52.58 620.67,53.17 620.58,53.74 620.48,54.31 620.37,54.86 620.23,55.40 620.07,55.92 619.89,56.42 619.67,56.89 619.43,57.34 619.16,57.77 618.85,58.16 618.51,58.54 618.15,58.88 617.75,59.20 617.32,59.50 616.86,59.77 616.38,60.02 615.87,60.26 615.35,60.48 614.81,60.68 614.26,60.88 613.70,61.06 613.13,61.25 612.56,61.43 612.00,61.62 611.44,61.81 610.90,62.01 610.37,62.22 609.86,62.45 609.37,62.70 608.91,62.97 608.47,63.26 608.06,63.57 607.69,63.91 607.34,64.27 607.03,64.67 606.74,65.08 606.49,65.53 606.27,65.99 606.08,66.48 605.91,67.00 605.77,67.53 605.65,68.08 605.55,68.64 605.46,69.22 605.38,69.80 605.30,70.39 605.23,70.98 605.16,71.57 605.08,72.16 604.99,72.74 604.89,73.30 604.77,73.85 604.63,74.39 604.47,74.90 604.28,75.40 604.06,75.87 603.81,76.31 603.54,76.73 603.23,77.13 602.88,77.50 602.51,77.84 602.11,78.16 601.67,78.45 601.21,78.72 600.73,78.97 600.22,79.20 599.69,79.42 599.15,79.62 598.60,79.81 598.03,80.00 597.47,80.18 596.90,80.36 596.34,80.55 595.79,80.74 595.24,80.95 594.72,81.16 594.21,81.40 593.72,81.65 593.26,81.92 592.83,82.21 592.43,82.53 592.06,82.87 591.71,83.24 591.41,83.63 591.13,84.05 590.88,84.50 590.66,84.97 590.47,85.47 590.31,85.98 590.17,86.52 590.05,87.07 589.95,87.63 589.86,88.21 589.79,88.80 589.71,89.39 589.64,89.98 589.57,90.57 589.49,91.15 589.40,91.73 589.29,92.29 589.17,92.84 589.03,93.37 588.86,93.88 588.67,94.37 588.45,94.84 588.20,95.28 587.91,95.70 587.60,96.09 587.25,96.46 586.87,96.79 586.47,97.11 586.03,97.40 585.56,97.66 585.08,97.91 584.57,98.14 584.04,98.35 583.49,98.56 582.94,98.75 582.37,98.93 581.81,99.12 581.24,99.30 580.68,99.49 580.13,99.68 579.59,99.89 579.06,100.11 578.56,100.34 578.08,100.59 577.62,100.87 577.19,101.16 576.79,101.48 576.43,101.83 576.09,102.20 575.78,102.60 575.51,103.03 575.27,103.48 575.06,103.95 574.87,104.45 574.71,104.97 574.57,105.50 574.46,106.06 574.36,106.63 574.27,107.20 574.20,107.79 574.12,108.38 574.05,108.97 573.98,109.56 573.90,110.14 573.81,110.72 573.70,111.28 573.57,111.83 573.43,112.36 573.26,112.87 573.06,113.35 572.83,113.82 572.58,114.26 572.29,114.67 571.97,115.05 571.62,115.42 571.24,115.75 570.82,116.06 570.38,116.35 569.92,116.61 569.27,116.72 568.64,116.86 568.05,117.02 567.51,117.22 567.01,117.47 566.58,117.76 566.21,118.11 565.90,118.50 562.54,122.85" fill="none" stroke="#1da1e2" stroke-width="1.55" stroke-linecap="round" stroke-linejoin="round"/>
<polygon points="554.75,133.00 560.75,114.00 563.65,121.40 571.00,123.00" fill="#1da1e2"/>
<polyline points="695.60,14.00 695.45,14.58 695.29,15.15 695.12,15.71 694.95,16.26 694.76,16.80 694.55,17.32 694.33,17.81 694.08,18.29 693.81,18.74 693.51,19.15 693.19,19.54 692.83,19.90 692.46,20.23 692.05,20.53 691.62,20.80 691.16,21.04 690.67,21.25 690.16,21.44 689.64,21.61 689.09,21.76 688.53,21.89 687.96,22.00 687.38,22.11 686.79,22.21 686.20,22.31 685.62,22.42 685.04,22.53 684.47,22.64 683.91,22.78 683.37,22.93 682.84,23.10 682.34,23.29 681.86,23.51 681.40,23.75 680.98,24.03 680.57,24.33 680.20,24.66 679.85,25.03 679.53,25.42 679.24,25.85 678.98,26.30 678.73,26.78 678.51,27.28 678.31,27.80 678.12,28.34 677.95,28.89 677.78,29.46 677.62,30.03 677.47,30.61 677.32,31.18 677.16,31.75 676.99,32.31 676.81,32.86 676.62,33.40 676.41,33.91 676.18,34.41 675.93,34.88 675.65,35.32 675.35,35.73 675.02,36.12 674.67,36.47 674.29,36.79 673.87,37.09 673.44,37.35 672.97,37.59 672.48,37.80 671.97,37.98 671.44,38.14 670.89,38.29 670.33,38.42 669.76,38.53 669.17,38.64 668.59,38.74 668.00,38.84 667.42,38.94 666.84,39.05 666.27,39.17 665.71,39.31 665.17,39.46 664.65,39.64 664.15,39.83 663.68,40.06 663.23,40.31 662.80,40.58 662.40,40.89 662.04,41.23 661.69,41.60 661.38,42.00 661.09,42.43 660.83,42.89 660.59,43.37 660.37,43.88 660.17,44.40 659.99,44.94 659.81,45.50 659.65,46.07 659.50,46.64 659.34,47.21 659.19,47.79 659.03,48.36 658.86,48.92 658.68,49.47 658.48,50.00 658.27,50.51 658.04,51.00 657.78,51.46 657.50,51.90 657.20,52.31 656.86,52.69 656.50,53.04 656.11,53.36 655.70,53.64 655.25,53.90 654.79,54.13 654.29,54.34 653.78,54.52 653.25,54.68 652.69,54.82 652.13,54.94 651.55,55.06 650.97,55.16 650.38,55.26 649.80,55.37 649.21,55.47 648.64,55.58 648.07,55.71 647.52,55.84 646.98,56.00 646.46,56.18 645.97,56.38 645.50,56.61 645.05,56.86 644.63,57.14 644.24,57.46 643.87,57.80 643.53,58.18 643.23,58.58 642.94,59.02 642.68,59.48 642.45,59.96 642.23,60.47 642.03,61.00 641.85,61.55 641.68,62.11 641.52,62.67 641.37,63.25 641.21,63.82 641.06,64.40 640.89,64.96 640.72,65.52 640.54,66.07 640.34,66.59 640.13,67.10 639.89,67.59 639.63,68.05 639.35,68.48 639.04,68.88 638.70,69.26 638.33,69.60 637.94,69.92 637.52,70.20 637.07,70.45 636.60,70.68 636.10,70.88 635.59,71.06 635.05,71.21 634.50,71.35 633.93,71.47 633.35,71.58 632.77,71.69 632.18,71.79 631.59,71.89 631.01,72.00 630.44,72.11 629.87,72.24 629.32,72.38 628.79,72.54 628.27,72.72 627.78,72.92 627.31,73.16 626.87,73.42 626.46,73.70 626.07,74.02 625.71,74.37 625.38,74.75 625.07,75.17 624.79,75.60 624.54,76.07 624.31,76.56 624.09,77.07 623.90,77.60 623.72,78.15 623.55,78.71 623.39,79.28 623.24,79.85 623.08,80.43 622.93,81.00 622.76,81.57 622.59,82.12 622.41,82.67 622.21,83.19 621.99,83.70 621.75,84.18 621.48,84.63 621.19,85.06 620.88,85.46 620.54,85.83 620.17,86.17 619.77,86.48 619.34,86.75 618.89,87.00 618.41,87.22 617.91,87.42 617.39,87.59 616.85,87.75 616.30,87.88 615.73,88.00 615.15,88.11 614.56,88.22 613.98,88.32 613.39,88.42 612.81,88.52 612.23,88.64 611.67,88.77 611.12,88.91 610.59,89.08 610.08,89.26 609.60,89.47 609.13,89.71 608.70,89.97 608.28,90.27 607.90,90.59 607.55,90.95 607.22,91.33 606.92,91.75 606.64,92.19 606.39,92.66 606.17,93.15 605.96,93.67 605.76,94.20 605.59,94.75 605.42,95.32 605.26,95.89 605.11,96.46 604.95,97.04 604.80,97.61 604.63,98.17 604.46,98.73 604.27,99.27 604.07,99.79 603.84,100.29 603.60,100.77 603.33,101.22 603.04,101.64 602.72,102.03 602.37,102.40 602.00,102.73 601.59,103.03 601.16,103.31 600.71,103.55 600.23,103.77 599.72,103.96 599.20,104.13 598.65,104.28 598.10,104.41 597.52,104.53 596.95,104.64 596.36,104.74 595.77,104.84 595.19,104.94 594.61,105.05 594.03,105.17 593.47,105.30 592.93,105.45 592.40,105.61 591.90,105.80 591.41,106.02 590.95,106.26 590.52,106.53 590.11,106.83 589.74,107.16 589.39,107.52 589.06,107.91 588.77,108.33 588.50,108.78 588.25,109.25 588.17,109.91 588.07,110.54 587.94,111.14 587.77,111.70 587.55,112.21 587.29,112.67 586.97,113.06 586.60,113.40 582.84,117.01" fill="none" stroke="#7b1619" stroke-width="1.55" stroke-linecap="round" stroke-linejoin="round"/>
<polygon points="574.00,125.50 581.75,108.00 584.10,115.80 591.50,118.75" fill="#7b1619"/>
<polyline points="705.40,44.30 705.20,44.86 704.99,45.42 704.78,45.97 704.56,46.51 704.33,47.03 704.08,47.53 703.81,48.01 703.53,48.46 703.22,48.88 702.89,49.28 702.53,49.64 702.15,49.97 701.74,50.27 701.31,50.53 700.85,50.76 700.37,50.96 699.87,51.13 699.35,51.28 698.81,51.40 698.25,51.50 697.68,51.59 697.09,51.66 696.50,51.71 695.91,51.77 695.31,51.82 694.72,51.88 694.13,51.94 693.55,52.01 692.99,52.10 692.43,52.21 691.90,52.34 691.38,52.49 690.88,52.67 690.41,52.88 689.96,53.12 689.54,53.40 689.14,53.70 688.77,54.04 688.42,54.41 688.09,54.82 687.79,55.25 687.51,55.71 687.25,56.20 687.01,56.70 686.78,57.23 686.56,57.77 686.35,58.32 686.15,58.88 685.95,59.45 685.74,60.01 685.54,60.56 685.32,61.11 685.10,61.64 684.86,62.16 684.61,62.65 684.33,63.12 684.04,63.57 683.73,63.98 683.39,64.37 683.02,64.72 682.63,65.04 682.22,65.32 681.78,65.58 681.32,65.80 680.83,65.99 680.32,66.16 679.79,66.29 679.24,66.41 678.68,66.50 678.11,66.58 677.52,66.65 676.93,66.71 676.34,66.76 675.74,66.81 675.15,66.87 674.56,66.93 673.99,67.01 673.42,67.10 672.88,67.22 672.34,67.35 671.83,67.52 671.34,67.71 670.88,67.93 670.44,68.18 670.02,68.46 669.63,68.78 669.26,69.13 668.92,69.51 668.61,69.92 668.31,70.36 668.04,70.83 667.78,71.32 667.54,71.84 667.32,72.37 667.10,72.91 666.90,73.47 666.69,74.03 666.49,74.59 666.29,75.15 666.08,75.71 665.86,76.25 665.64,76.78 665.39,77.29 665.13,77.77 664.85,78.24 664.56,78.67 664.23,79.08 663.89,79.45 663.51,79.79 663.12,80.10 662.70,80.38 662.25,80.62 661.78,80.84 661.28,81.02 660.77,81.17 660.23,81.31 659.68,81.41 659.11,81.50 658.54,81.58 657.95,81.64 657.36,81.70 656.76,81.75 656.17,81.80 655.58,81.86 654.99,81.93 654.42,82.01 653.86,82.11 653.32,82.23 652.79,82.37 652.29,82.54 651.81,82.74 651.35,82.97 650.91,83.23 650.51,83.53 650.12,83.86 649.77,84.22 649.43,84.61 649.12,85.03 648.83,85.48 648.57,85.96 648.32,86.45 648.08,86.97 647.86,87.51 647.65,88.06 647.44,88.62 647.24,89.18 647.04,89.74 646.83,90.30 646.62,90.85 646.40,91.39 646.17,91.91 645.92,92.41 645.66,92.89 645.37,93.35 645.07,93.77 644.74,94.17 644.38,94.53 644.00,94.87 643.60,95.16 643.17,95.43 642.71,95.67 642.24,95.87 641.73,96.04 641.21,96.19 640.67,96.31 640.12,96.42 639.55,96.50 638.96,96.57 638.37,96.63 637.78,96.69 637.19,96.74 636.59,96.79 636.00,96.85 635.42,96.93 634.85,97.01 634.30,97.12 633.76,97.25 633.24,97.40 632.75,97.58 632.27,97.78 631.82,98.02 631.39,98.30 630.99,98.60 630.62,98.94 630.27,99.31 629.94,99.71 629.64,100.14 629.36,100.60 629.10,101.08 628.85,101.59 628.62,102.11 628.40,102.65 628.19,103.20 627.99,103.76 627.79,104.33 627.58,104.89 627.38,105.44 627.16,105.99 626.94,106.52 626.70,107.04 626.45,107.54 626.18,108.01 625.89,108.45 625.58,108.87 625.24,109.26 624.88,109.61 624.49,109.93 624.08,110.22 623.64,110.48 623.18,110.71 622.69,110.90 622.18,111.07 621.66,111.21 621.11,111.32 620.55,111.42 619.98,111.50 619.39,111.56 618.80,111.62 618.21,111.68 617.61,111.73 617.02,111.78 616.43,111.85 615.86,111.93 615.29,112.02 614.74,112.13 614.21,112.26 613.70,112.42 613.21,112.61 612.74,112.83 612.30,113.08 611.88,113.36 611.48,113.67 611.12,114.02 610.77,114.40 610.45,114.81 610.16,115.25 609.88,115.72 609.63,116.21 609.39,116.72 609.16,117.25 608.94,117.79 608.74,118.35 608.53,118.91 608.33,119.47 608.13,120.03 607.92,120.59 607.71,121.13 607.48,121.66 607.24,122.17 606.98,122.66 606.70,123.12 606.40,123.56 606.08,123.97 605.74,124.34 605.37,124.69 604.97,125.00 604.55,125.28 604.11,125.53 603.64,125.74 603.15,125.93 602.63,126.09 602.10,126.22 601.55,126.33 600.98,126.42 600.40,126.49 599.82,126.56 599.23,126.61 598.63,126.67 598.04,126.72 597.45,126.78 596.86,126.84 596.29,126.93 595.73,127.02 595.18,127.14 594.66,127.28 594.15,127.45 593.67,127.65 593.21,127.88 592.95,128.37 592.74,128.91 592.54,129.48 592.35,130.06 592.16,130.64 591.96,131.20 591.74,131.74 591.50,132.25 587.45,135.40" fill="none" stroke="#d3222a" stroke-width="1.55" stroke-linecap="round" stroke-linejoin="round"/>
<polygon points="578.00,142.75 587.00,127.75 588.80,134.35 596.00,136.75" fill="#d3222a"/>
</g></svg>
</body></html>
